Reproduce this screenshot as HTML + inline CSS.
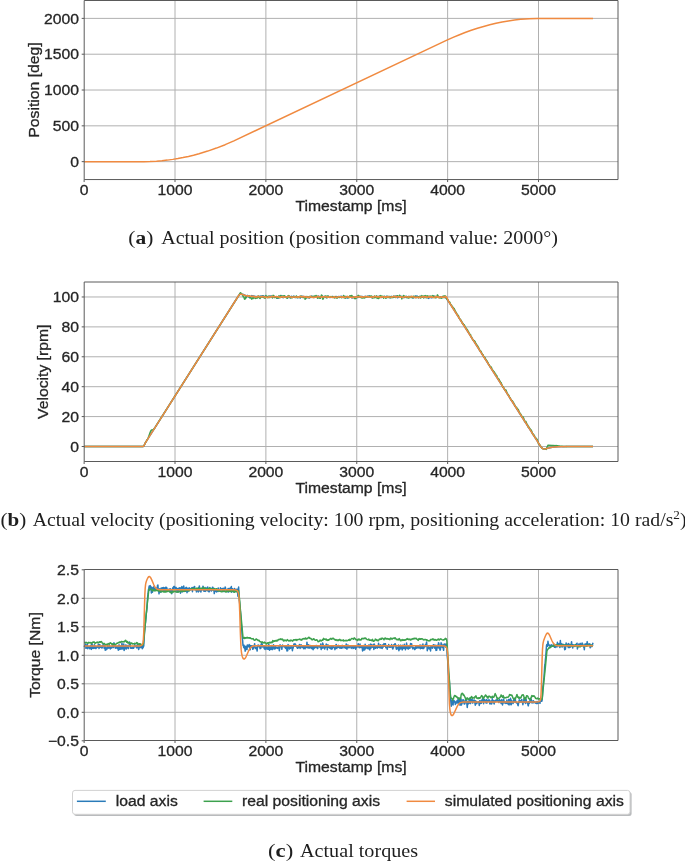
<!DOCTYPE html>
<html><head><meta charset="utf-8"><style>
html,body{margin:0;padding:0;background:#fff;width:685px;height:861px;overflow:hidden}
svg{display:block;will-change:transform}
.s{stroke:#262626;stroke-width:0.3px}
</style></head><body>
<svg width="685" height="861" viewBox="0 0 685 861">
<rect width="685" height="861" fill="#fff"/>
<line x1="175.00" y1="0.50" x2="175.00" y2="179.55" stroke="#b0b0b0" stroke-width="1.0"/>
<line x1="265.88" y1="0.50" x2="265.88" y2="179.55" stroke="#b0b0b0" stroke-width="1.0"/>
<line x1="356.75" y1="0.50" x2="356.75" y2="179.55" stroke="#b0b0b0" stroke-width="1.0"/>
<line x1="447.63" y1="0.50" x2="447.63" y2="179.55" stroke="#b0b0b0" stroke-width="1.0"/>
<line x1="538.50" y1="0.50" x2="538.50" y2="179.55" stroke="#b0b0b0" stroke-width="1.0"/>
<line x1="84.13" y1="161.65" x2="618.00" y2="161.65" stroke="#b0b0b0" stroke-width="1.0"/>
<line x1="84.13" y1="125.84" x2="618.00" y2="125.84" stroke="#b0b0b0" stroke-width="1.0"/>
<line x1="84.13" y1="90.02" x2="618.00" y2="90.02" stroke="#b0b0b0" stroke-width="1.0"/>
<line x1="84.13" y1="54.21" x2="618.00" y2="54.21" stroke="#b0b0b0" stroke-width="1.0"/>
<line x1="84.13" y1="18.39" x2="618.00" y2="18.39" stroke="#b0b0b0" stroke-width="1.0"/>
<path d="M84.13,161.65 L143.74,161.65 L149.92,161.52 L156.47,161.17 L161.92,160.72 L167.37,160.12 L172.82,159.37 L177.91,158.54 L183.00,157.58 L188.45,156.41 L193.54,155.19 L199.00,153.73 L207.72,151.09 L216.44,148.08 L225.17,144.68 L233.89,140.91 L446.90,40.17 L453.08,37.39 L458.90,34.95 L465.08,32.53 L471.26,30.31 L477.44,28.28 L483.62,26.44 L489.80,24.78 L495.98,23.32 L502.15,22.05 L508.33,20.96 L514.51,20.07 L520.69,19.37 L529.42,18.70 L537.78,18.41 L593.03,18.39" fill="none" stroke="#f08a40" stroke-width="1.5" stroke-linejoin="round" stroke-linecap="butt" opacity="1.0"/>
<path d="M84.20,0.50 H618.00 V179.55 H84.20 Z" fill="none" stroke="#5a5a5a" stroke-width="1.0" stroke-linejoin="miter"/>
<line x1="84.13" y1="179.55" x2="84.13" y2="182.05" stroke="#5a5a5a" stroke-width="1.0"/>
<text transform="translate(84.13,194.95) scale(1.085,1)" font-family='"Liberation Sans", sans-serif' font-size="14.5" font-weight="normal" text-anchor="middle" fill="#262626" class="s">0</text>
<line x1="175.00" y1="179.55" x2="175.00" y2="182.05" stroke="#5a5a5a" stroke-width="1.0"/>
<text transform="translate(175.00,194.95) scale(1.085,1)" font-family='"Liberation Sans", sans-serif' font-size="14.5" font-weight="normal" text-anchor="middle" fill="#262626" class="s">1000</text>
<line x1="265.88" y1="179.55" x2="265.88" y2="182.05" stroke="#5a5a5a" stroke-width="1.0"/>
<text transform="translate(265.88,194.95) scale(1.085,1)" font-family='"Liberation Sans", sans-serif' font-size="14.5" font-weight="normal" text-anchor="middle" fill="#262626" class="s">2000</text>
<line x1="356.75" y1="179.55" x2="356.75" y2="182.05" stroke="#5a5a5a" stroke-width="1.0"/>
<text transform="translate(356.75,194.95) scale(1.085,1)" font-family='"Liberation Sans", sans-serif' font-size="14.5" font-weight="normal" text-anchor="middle" fill="#262626" class="s">3000</text>
<line x1="447.63" y1="179.55" x2="447.63" y2="182.05" stroke="#5a5a5a" stroke-width="1.0"/>
<text transform="translate(447.63,194.95) scale(1.085,1)" font-family='"Liberation Sans", sans-serif' font-size="14.5" font-weight="normal" text-anchor="middle" fill="#262626" class="s">4000</text>
<line x1="538.50" y1="179.55" x2="538.50" y2="182.05" stroke="#5a5a5a" stroke-width="1.0"/>
<text transform="translate(538.50,194.95) scale(1.085,1)" font-family='"Liberation Sans", sans-serif' font-size="14.5" font-weight="normal" text-anchor="middle" fill="#262626" class="s">5000</text>
<line x1="81.70" y1="161.65" x2="84.20" y2="161.65" stroke="#5a5a5a" stroke-width="1.0"/>
<text transform="translate(78.90,166.85) scale(1.085,1)" font-family='"Liberation Sans", sans-serif' font-size="14.5" font-weight="normal" text-anchor="end" fill="#262626" class="s">0</text>
<line x1="81.70" y1="125.84" x2="84.20" y2="125.84" stroke="#5a5a5a" stroke-width="1.0"/>
<text transform="translate(78.90,131.03) scale(1.085,1)" font-family='"Liberation Sans", sans-serif' font-size="14.5" font-weight="normal" text-anchor="end" fill="#262626" class="s">500</text>
<line x1="81.70" y1="90.02" x2="84.20" y2="90.02" stroke="#5a5a5a" stroke-width="1.0"/>
<text transform="translate(78.90,95.22) scale(1.085,1)" font-family='"Liberation Sans", sans-serif' font-size="14.5" font-weight="normal" text-anchor="end" fill="#262626" class="s">1000</text>
<line x1="81.70" y1="54.21" x2="84.20" y2="54.21" stroke="#5a5a5a" stroke-width="1.0"/>
<text transform="translate(78.90,59.41) scale(1.085,1)" font-family='"Liberation Sans", sans-serif' font-size="14.5" font-weight="normal" text-anchor="end" fill="#262626" class="s">1500</text>
<line x1="81.70" y1="18.39" x2="84.20" y2="18.39" stroke="#5a5a5a" stroke-width="1.0"/>
<text transform="translate(78.90,23.59) scale(1.085,1)" font-family='"Liberation Sans", sans-serif' font-size="14.5" font-weight="normal" text-anchor="end" fill="#262626" class="s">2000</text>
<text transform="translate(351.06,210.75) scale(1.085,1)" font-family='"Liberation Sans", sans-serif' font-size="14.5" font-weight="normal" text-anchor="middle" fill="#262626" class="s">Timestamp [ms]</text>
<text x="0" y="0" transform="translate(38.60,90.03) rotate(-90) scale(1.085,1)" font-family='"Liberation Sans", sans-serif' font-size="14.5" text-anchor="middle" fill="#262626" class="s">Position [deg]</text>
<line x1="175.00" y1="282.00" x2="175.00" y2="461.50" stroke="#b0b0b0" stroke-width="1.0"/>
<line x1="265.88" y1="282.00" x2="265.88" y2="461.50" stroke="#b0b0b0" stroke-width="1.0"/>
<line x1="356.75" y1="282.00" x2="356.75" y2="461.50" stroke="#b0b0b0" stroke-width="1.0"/>
<line x1="447.63" y1="282.00" x2="447.63" y2="461.50" stroke="#b0b0b0" stroke-width="1.0"/>
<line x1="538.50" y1="282.00" x2="538.50" y2="461.50" stroke="#b0b0b0" stroke-width="1.0"/>
<line x1="84.13" y1="446.50" x2="618.00" y2="446.50" stroke="#b0b0b0" stroke-width="1.0"/>
<line x1="84.13" y1="416.59" x2="618.00" y2="416.59" stroke="#b0b0b0" stroke-width="1.0"/>
<line x1="84.13" y1="386.69" x2="618.00" y2="386.69" stroke="#b0b0b0" stroke-width="1.0"/>
<line x1="84.13" y1="356.78" x2="618.00" y2="356.78" stroke="#b0b0b0" stroke-width="1.0"/>
<line x1="84.13" y1="326.88" x2="618.00" y2="326.88" stroke="#b0b0b0" stroke-width="1.0"/>
<line x1="84.13" y1="296.97" x2="618.00" y2="296.97" stroke="#b0b0b0" stroke-width="1.0"/>
<path d="M84.13,446.50 L142.29,446.50 L143.02,446.45 L143.38,446.32 L143.74,446.00 L144.11,445.45 L145.20,443.17 L146.29,441.34 L237.89,296.76 L238.98,295.15 L239.71,294.46 L240.44,294.22 L241.16,294.19 L243.34,294.44 L244.07,295.04 L244.43,294.90 L244.80,295.25 L245.16,295.27 L245.89,296.15 L246.61,296.05 L246.98,295.86 L247.34,295.35 L247.70,296.31 L248.07,296.04 L248.43,296.90 L248.80,296.84 L249.16,296.63 L249.52,297.25 L249.89,297.40 L250.25,296.66 L250.61,296.40 L250.98,296.39 L251.34,296.68 L251.70,295.63 L252.43,296.66 L252.79,295.88 L253.16,295.98 L253.52,296.45 L253.88,296.03 L254.25,296.27 L254.61,296.20 L254.97,296.35 L255.34,296.92 L255.70,296.39 L256.07,296.49 L256.43,297.01 L256.79,297.15 L257.16,296.51 L257.52,296.79 L257.88,296.75 L258.25,296.48 L258.61,296.59 L258.97,297.32 L259.34,296.76 L259.70,296.41 L260.06,296.29 L260.43,295.94 L260.79,296.28 L261.15,296.29 L261.52,295.97 L261.88,296.59 L262.25,296.05 L262.61,295.81 L262.97,296.10 L263.34,295.80 L263.70,296.07 L264.06,296.90 L264.43,296.44 L265.52,296.71 L265.88,296.27 L266.24,296.42 L266.61,296.98 L267.33,296.55 L267.70,297.06 L268.79,297.29 L269.51,296.53 L269.88,295.99 L270.61,296.13 L271.33,296.06 L271.70,296.72 L272.06,296.58 L272.42,296.66 L273.15,297.11 L273.51,297.22 L273.88,297.18 L274.24,297.55 L274.60,297.00 L275.33,296.92 L276.06,296.59 L276.42,297.04 L276.78,297.04 L277.51,298.16 L277.88,298.27 L278.24,296.90 L278.60,297.67 L279.33,296.40 L279.69,296.89 L280.06,296.28 L280.42,295.91 L280.78,296.13 L281.15,295.65 L281.51,296.14 L281.87,296.91 L282.24,296.74 L282.60,297.05 L282.96,297.54 L283.33,297.73 L283.69,296.36 L284.05,296.92 L284.42,296.95 L284.78,297.22 L285.15,297.01 L285.87,297.18 L286.60,297.78 L286.96,297.62 L287.33,297.13 L287.69,296.19 L288.05,296.19 L288.42,295.88 L289.14,296.70 L289.51,297.40 L289.87,297.15 L290.23,297.92 L290.60,297.50 L290.96,296.53 L291.32,296.63 L291.69,296.36 L292.42,297.46 L293.14,297.30 L293.87,296.01 L294.23,296.83 L294.60,297.04 L295.32,297.14 L295.69,297.55 L296.41,296.90 L296.78,296.77 L297.14,297.36 L297.50,297.17 L297.87,297.75 L298.23,296.93 L298.60,297.36 L298.96,297.23 L299.69,297.31 L300.41,297.91 L300.78,296.67 L301.50,296.74 L301.87,296.00 L302.23,296.57 L302.59,296.57 L302.96,296.78 L303.32,296.40 L304.05,296.63 L304.41,296.92 L304.77,296.82 L305.14,296.43 L305.50,297.57 L305.87,297.27 L306.59,297.20 L306.96,297.86 L307.32,297.04 L307.68,297.33 L308.05,297.20 L308.41,297.26 L308.77,297.75 L309.14,297.48 L309.50,297.92 L309.86,297.75 L310.59,297.14 L310.95,297.01 L311.32,297.02 L311.68,296.11 L312.04,296.40 L312.41,297.20 L313.13,297.37 L313.50,297.21 L314.23,297.44 L314.59,296.49 L315.32,296.99 L316.04,297.08 L316.41,296.45 L316.77,296.54 L317.13,296.31 L317.50,297.93 L318.59,296.02 L318.95,296.54 L319.31,297.44 L319.68,296.93 L320.04,297.19 L320.40,297.79 L320.77,297.56 L321.13,296.78 L321.50,296.39 L321.86,296.41 L322.22,297.12 L322.59,296.00 L322.95,297.01 L323.31,297.01 L323.68,297.56 L324.04,296.67 L324.40,296.66 L324.77,296.46 L325.49,296.85 L325.86,296.84 L326.22,297.66 L326.58,296.86 L326.95,296.54 L327.31,296.92 L327.67,296.94 L328.04,296.81 L328.40,296.26 L329.49,297.05 L329.86,297.60 L330.22,297.48 L330.58,297.15 L330.95,297.13 L331.31,296.99 L331.67,296.65 L332.40,296.70 L332.76,296.57 L333.49,296.85 L333.85,296.71 L334.22,297.54 L334.58,296.70 L334.94,297.36 L335.31,296.78 L335.67,296.87 L336.04,296.45 L336.40,296.72 L336.76,297.21 L337.13,296.63 L338.22,296.85 L338.58,296.49 L338.94,296.42 L339.31,296.62 L339.67,297.42 L340.03,297.31 L340.40,297.06 L340.76,296.27 L341.49,296.77 L341.85,296.38 L342.21,296.74 L342.58,296.87 L342.94,296.84 L343.31,297.50 L343.67,296.80 L344.03,296.70 L344.40,296.95 L344.76,297.40 L345.12,297.04 L345.49,296.42 L346.21,297.38 L346.58,296.95 L347.30,298.12 L347.67,297.62 L348.39,297.29 L348.76,297.30 L349.12,296.94 L349.85,297.21 L350.21,297.23 L350.94,296.49 L351.30,296.37 L351.67,296.40 L352.03,298.03 L352.39,297.82 L353.12,297.08 L353.48,297.65 L353.85,296.65 L354.21,296.68 L354.57,297.07 L354.94,296.92 L355.66,297.30 L356.03,296.89 L356.39,297.09 L356.75,297.57 L357.12,297.46 L357.48,297.20 L357.85,297.49 L358.21,296.66 L358.57,297.24 L358.94,296.35 L359.30,296.31 L359.66,297.03 L360.03,296.93 L360.39,296.44 L360.75,296.80 L361.12,297.36 L361.48,297.06 L361.84,296.18 L362.21,297.21 L362.57,296.82 L364.02,297.12 L364.39,296.59 L364.75,296.54 L365.12,297.16 L365.48,296.39 L365.84,297.21 L366.21,296.79 L366.57,296.79 L366.93,296.38 L367.30,296.55 L367.66,296.32 L368.02,296.68 L368.39,296.42 L368.75,296.57 L369.11,295.90 L369.48,296.77 L369.84,296.37 L370.57,296.67 L370.93,297.05 L371.29,296.79 L371.66,297.47 L372.02,297.71 L372.39,296.98 L372.75,297.57 L373.11,296.62 L373.48,296.89 L373.84,296.80 L374.20,296.84 L374.57,296.70 L375.29,297.08 L375.66,297.04 L376.02,296.55 L376.75,296.13 L377.47,296.78 L377.84,297.54 L378.20,296.94 L378.56,296.59 L378.93,296.94 L379.66,296.25 L380.02,296.59 L380.38,296.35 L380.75,296.54 L381.11,297.46 L381.84,297.27 L382.20,296.86 L382.56,297.24 L382.93,297.23 L383.29,297.44 L384.02,297.00 L384.38,296.55 L384.74,296.43 L385.11,296.63 L386.20,296.82 L386.56,296.25 L386.93,297.63 L387.65,296.96 L388.02,296.48 L388.38,297.18 L389.11,296.55 L389.47,296.94 L389.83,297.70 L390.20,297.40 L390.56,297.61 L390.92,296.96 L391.29,297.28 L391.65,296.34 L392.01,296.61 L392.38,297.10 L392.74,297.20 L393.10,297.48 L393.83,296.36 L394.20,296.75 L394.56,296.47 L394.92,297.10 L395.29,296.87 L395.65,295.98 L396.01,297.07 L396.38,296.49 L396.74,296.25 L397.10,297.39 L397.47,297.72 L397.83,297.65 L398.19,296.85 L398.56,297.07 L398.92,297.04 L399.28,296.67 L400.01,296.76 L400.38,296.98 L400.74,296.49 L401.10,297.05 L401.47,296.30 L402.19,297.18 L402.56,296.78 L402.92,296.67 L403.28,297.62 L403.65,297.13 L404.01,297.55 L404.37,297.53 L404.74,296.87 L405.10,297.23 L405.46,296.91 L405.83,297.06 L406.19,296.19 L406.92,297.27 L407.28,297.52 L407.64,297.54 L408.01,297.15 L408.37,297.02 L408.74,296.57 L409.46,296.76 L409.83,296.72 L410.19,296.89 L411.28,296.45 L412.01,297.64 L412.37,297.56 L412.73,297.09 L413.10,298.01 L413.82,297.02 L414.55,297.49 L414.91,296.45 L415.28,296.16 L415.64,296.70 L416.01,296.29 L416.37,296.12 L416.73,297.04 L417.10,295.90 L417.46,296.86 L417.82,297.01 L418.19,297.42 L418.55,297.10 L418.91,297.55 L419.28,297.20 L419.64,296.61 L420.00,296.70 L420.37,296.94 L420.73,296.30 L421.09,297.02 L421.46,296.59 L421.82,296.90 L422.91,296.86 L423.28,296.93 L423.64,297.25 L424.00,297.30 L424.37,296.92 L424.73,296.97 L425.09,297.42 L425.82,297.43 L426.55,296.97 L426.91,296.91 L427.27,297.18 L427.64,297.03 L428.00,297.53 L428.36,298.36 L428.73,297.58 L429.09,297.88 L429.45,297.73 L429.82,297.77 L430.18,297.03 L430.55,297.47 L430.91,297.05 L431.27,297.18 L432.00,297.85 L432.36,297.14 L433.09,296.60 L433.45,296.05 L433.82,296.44 L434.54,296.86 L434.91,296.88 L435.63,297.37 L436.00,296.33 L436.36,297.44 L437.09,296.82 L437.45,296.83 L437.82,297.31 L438.18,297.18 L438.54,297.24 L438.91,297.52 L439.27,297.22 L440.00,297.30 L440.36,296.83 L440.72,297.33 L441.09,296.95 L441.45,297.20 L441.81,296.89 L442.54,296.84 L442.90,297.31 L443.63,297.52 L444.72,296.43 L445.09,296.94 L445.45,296.93 L446.18,298.34 L446.54,298.37 L446.90,298.72 L447.27,299.76 L447.63,299.67 L448.36,301.08 L449.81,303.41 L540.32,445.88 L541.78,447.89 L542.14,448.23 L542.87,448.68 L543.59,448.90 L544.32,448.96 L545.77,448.79 L549.77,447.80 L552.32,447.30 L554.86,446.97 L558.13,446.72 L567.22,446.52 L593.03,446.50" fill="none" stroke="#2a7bb9" stroke-width="1.5" stroke-linejoin="round" stroke-linecap="butt" opacity="1.0"/>
<path d="M84.13,446.50 L142.29,446.50 L143.02,446.45 L143.38,446.32 L143.74,446.00 L144.11,445.45 L145.20,443.17 L147.38,439.47 L148.11,438.02 L148.83,436.22 L150.29,432.05 L151.01,430.60 L151.38,430.18 L151.74,429.95 L152.83,429.69 L153.56,429.28 L154.29,428.52 L155.38,426.97 L238.98,295.08 L240.07,293.15 L240.44,292.77 L240.80,292.87 L242.25,294.85 L242.62,294.49 L242.98,296.21 L243.34,296.70 L243.71,296.83 L244.07,297.44 L244.43,298.84 L244.80,299.19 L245.16,298.96 L245.52,298.30 L245.89,296.99 L246.25,297.68 L246.61,296.81 L246.98,296.33 L247.34,296.19 L247.70,296.26 L248.07,295.70 L248.43,296.17 L248.80,296.22 L249.16,296.49 L249.52,295.91 L249.89,297.96 L250.25,296.96 L250.61,297.50 L250.98,297.77 L251.70,299.10 L252.07,298.56 L252.43,298.50 L252.79,297.74 L253.16,298.58 L253.52,297.16 L253.88,297.23 L254.61,297.94 L255.34,298.39 L255.70,298.11 L256.07,297.62 L256.43,297.48 L256.79,298.14 L257.16,297.70 L257.52,297.88 L257.88,297.30 L258.25,295.99 L258.61,296.15 L258.97,296.79 L259.34,297.84 L260.06,298.49 L260.43,297.15 L260.79,297.46 L261.15,297.08 L261.52,297.33 L261.88,297.00 L262.25,296.09 L262.61,296.94 L262.97,297.11 L263.34,297.47 L263.70,296.61 L264.06,297.40 L264.79,298.13 L265.15,298.28 L265.52,297.22 L265.88,295.48 L266.24,296.88 L266.61,296.31 L266.97,296.49 L267.33,297.40 L268.06,297.23 L268.42,297.49 L268.79,296.00 L269.15,297.67 L269.51,297.02 L269.88,296.77 L270.24,297.21 L270.61,296.98 L270.97,296.41 L271.33,296.62 L271.70,296.55 L272.06,296.35 L272.42,297.92 L273.15,295.37 L273.51,295.67 L273.88,295.79 L274.24,297.28 L274.60,297.18 L274.97,297.57 L275.33,297.59 L275.69,296.65 L276.06,297.30 L276.42,297.18 L276.78,298.21 L277.15,297.59 L277.51,297.19 L277.88,297.48 L278.24,297.62 L278.60,296.09 L278.97,297.31 L279.33,297.75 L279.69,297.79 L280.42,295.54 L280.78,296.13 L281.15,297.03 L281.51,297.24 L281.87,296.45 L282.24,297.31 L282.60,296.24 L282.96,295.78 L283.33,296.41 L284.05,296.23 L284.42,295.72 L284.78,297.07 L285.15,296.30 L285.87,297.41 L286.24,297.11 L286.60,297.15 L287.33,298.23 L287.69,298.08 L288.05,296.57 L288.42,295.60 L288.78,295.97 L289.14,295.80 L289.51,296.77 L289.87,296.94 L290.23,296.80 L290.60,297.56 L290.96,297.84 L291.32,297.28 L291.69,297.30 L292.05,297.76 L292.42,297.07 L292.78,297.16 L293.14,296.43 L293.87,297.04 L294.23,296.93 L294.60,297.05 L294.96,297.42 L295.32,297.41 L295.69,296.70 L296.05,296.46 L296.41,295.97 L296.78,297.55 L297.50,297.44 L297.87,297.08 L298.60,297.41 L298.96,296.68 L299.32,296.73 L299.69,297.58 L300.05,296.42 L300.41,296.12 L300.78,296.96 L301.14,296.46 L301.50,297.18 L301.87,296.39 L302.59,297.40 L302.96,297.39 L303.32,297.61 L303.68,297.14 L304.05,296.94 L304.41,296.93 L304.77,297.28 L305.14,299.32 L305.50,297.94 L305.87,298.54 L306.59,296.51 L306.96,296.57 L307.32,297.03 L308.05,297.10 L309.14,297.76 L309.50,296.59 L309.86,296.81 L310.23,296.32 L310.59,296.83 L310.95,296.86 L311.32,297.04 L312.04,296.37 L312.41,296.56 L312.77,297.20 L313.13,297.54 L313.50,296.22 L313.86,296.82 L314.23,297.08 L314.59,296.13 L314.95,295.94 L315.32,296.21 L315.68,296.88 L316.04,295.50 L316.41,296.11 L316.77,296.27 L317.13,296.78 L317.50,297.74 L317.86,298.14 L318.22,297.23 L318.59,296.85 L318.95,297.06 L319.68,298.15 L320.04,297.69 L320.40,298.17 L320.77,296.94 L321.13,296.25 L321.50,294.93 L321.86,295.55 L322.22,296.70 L322.59,297.39 L322.95,299.25 L324.04,296.69 L324.77,296.36 L325.13,296.57 L325.49,296.39 L325.86,295.85 L326.22,297.14 L326.58,297.32 L326.95,297.97 L327.31,296.43 L327.67,295.96 L328.04,296.07 L328.40,297.30 L328.77,297.00 L329.13,297.14 L329.49,297.01 L329.86,297.11 L330.22,296.70 L330.58,297.09 L330.95,296.50 L331.31,296.62 L331.67,296.99 L332.04,297.05 L332.40,297.27 L332.76,296.61 L333.13,296.98 L333.49,296.79 L333.85,297.13 L334.22,297.94 L334.58,296.85 L334.94,297.56 L335.31,296.82 L335.67,296.64 L336.04,297.82 L336.40,297.92 L336.76,297.68 L337.13,297.78 L337.49,298.04 L337.85,296.97 L338.22,297.11 L338.58,296.79 L338.94,297.15 L339.31,296.85 L339.67,297.38 L340.03,297.16 L340.40,296.70 L340.76,296.82 L341.49,297.72 L341.85,297.19 L342.21,296.86 L342.58,297.08 L342.94,297.48 L343.31,296.85 L343.67,295.42 L344.03,296.48 L344.76,296.55 L345.12,298.35 L345.49,297.52 L345.85,297.63 L346.21,296.42 L346.94,297.38 L347.30,297.28 L347.67,297.00 L348.03,297.33 L348.39,297.16 L348.76,297.87 L349.12,297.49 L349.85,295.67 L350.58,296.36 L350.94,295.99 L351.30,295.93 L351.67,295.53 L352.03,295.69 L352.39,296.49 L353.12,296.72 L353.85,296.74 L354.21,297.34 L354.57,298.41 L354.94,298.00 L355.30,298.65 L355.66,297.66 L356.03,297.26 L356.39,298.09 L356.75,297.03 L357.12,296.45 L357.48,296.69 L357.85,295.84 L358.21,295.33 L358.57,296.99 L358.94,296.36 L359.66,296.50 L360.03,296.22 L360.39,297.07 L361.12,297.65 L361.48,297.73 L361.84,297.37 L362.21,298.02 L362.57,298.05 L362.93,297.08 L363.30,297.05 L363.66,296.77 L364.02,298.02 L364.75,297.71 L365.12,297.27 L365.48,297.46 L365.84,296.60 L366.21,296.84 L366.93,296.93 L367.30,296.52 L367.66,297.07 L368.02,296.33 L368.39,296.41 L369.11,296.81 L369.48,296.58 L369.84,296.20 L370.20,296.06 L370.57,296.35 L370.93,296.17 L371.29,296.56 L371.66,296.04 L372.02,296.59 L372.39,298.07 L372.75,296.64 L373.11,296.76 L373.48,297.60 L373.84,297.36 L374.20,297.66 L374.57,296.01 L374.93,296.25 L375.29,297.60 L375.66,296.91 L376.02,297.18 L376.38,295.92 L377.11,298.40 L377.47,297.56 L377.84,297.43 L378.20,297.44 L378.56,298.46 L379.29,296.12 L379.66,297.75 L380.02,296.60 L380.38,297.13 L380.75,295.62 L381.47,296.70 L381.84,296.20 L382.20,296.31 L382.56,297.06 L382.93,296.58 L383.29,297.11 L383.65,298.13 L384.02,296.25 L384.74,297.30 L385.11,296.90 L385.47,297.87 L385.83,298.20 L386.20,297.80 L386.56,297.64 L386.93,297.22 L387.29,296.38 L387.65,296.99 L388.38,296.47 L388.74,297.41 L389.11,297.03 L389.47,297.56 L389.83,296.59 L390.20,296.53 L390.56,296.76 L390.92,297.69 L391.29,297.21 L391.65,297.55 L392.01,296.80 L392.38,296.97 L392.74,297.45 L393.10,296.62 L393.47,296.37 L393.83,297.08 L394.20,296.31 L394.56,296.86 L394.92,297.12 L395.29,296.97 L395.65,297.42 L396.01,297.44 L396.38,297.27 L396.74,296.17 L397.10,295.71 L397.47,296.57 L397.83,295.82 L398.19,296.49 L398.56,296.55 L398.92,296.26 L399.28,296.48 L399.65,295.31 L400.01,296.10 L400.38,297.32 L400.74,296.34 L401.10,296.95 L401.47,297.17 L401.83,298.87 L402.19,297.18 L402.56,296.58 L403.28,296.09 L403.65,295.53 L404.01,296.38 L404.37,296.15 L404.74,297.07 L405.10,297.24 L405.46,296.46 L405.83,296.51 L406.19,297.59 L406.55,297.01 L406.92,297.10 L407.28,297.53 L407.64,296.95 L408.01,297.20 L408.37,298.02 L408.74,298.10 L409.10,296.38 L409.46,297.64 L410.19,296.65 L410.55,296.43 L410.92,297.50 L411.28,297.38 L411.64,297.06 L412.01,296.53 L412.73,297.75 L413.10,296.70 L413.46,296.18 L413.82,296.41 L414.19,297.09 L414.55,296.76 L414.91,296.82 L415.28,296.41 L415.64,297.49 L416.01,297.12 L416.37,297.13 L416.73,297.72 L417.10,297.17 L417.46,297.02 L417.82,297.24 L418.19,296.85 L418.55,297.77 L419.28,296.87 L419.64,296.75 L420.00,296.23 L420.37,297.36 L420.73,298.05 L421.09,297.30 L421.46,296.84 L421.82,295.64 L422.19,296.01 L422.55,297.07 L422.91,296.53 L423.64,298.03 L424.00,295.86 L424.37,296.28 L425.09,296.31 L425.46,295.57 L425.82,296.21 L426.18,295.91 L426.55,297.14 L426.91,297.89 L427.27,296.52 L427.64,295.88 L428.36,296.49 L428.73,296.65 L429.09,297.26 L429.45,296.18 L430.55,296.47 L430.91,296.11 L431.27,296.31 L431.64,296.24 L432.00,297.36 L432.36,296.84 L432.73,295.60 L433.09,296.69 L433.45,296.93 L433.82,296.40 L434.18,296.15 L434.54,296.25 L434.91,297.63 L435.27,296.95 L435.63,297.69 L436.00,297.79 L436.36,297.00 L436.72,297.15 L437.09,296.56 L437.45,294.87 L437.82,295.58 L438.18,295.93 L438.54,297.06 L439.27,297.83 L439.63,297.68 L440.00,297.95 L440.36,297.79 L440.72,297.44 L441.45,298.17 L441.81,298.31 L442.18,297.27 L442.54,297.06 L442.90,296.38 L443.27,296.07 L443.63,296.77 L444.00,296.48 L444.36,297.63 L444.72,295.88 L445.09,295.78 L445.81,297.57 L446.18,297.16 L446.54,298.65 L446.90,299.06 L447.27,298.82 L447.99,300.41 L448.36,300.80 L448.72,301.54 L449.08,301.80 L449.45,301.88 L449.81,302.28 L450.54,304.31 L451.26,305.14 L451.63,305.18 L451.99,306.11 L452.36,306.77 L452.72,307.00 L453.08,307.92 L453.45,308.52 L453.81,308.34 L454.17,308.67 L454.90,310.32 L455.26,311.50 L455.63,311.73 L456.35,312.88 L456.72,313.72 L457.44,314.82 L457.81,315.20 L458.17,315.24 L458.53,316.01 L458.90,317.49 L459.63,319.04 L459.99,319.43 L460.35,319.38 L460.72,319.72 L461.08,320.61 L461.44,320.96 L462.53,323.59 L462.90,324.01 L463.26,323.61 L463.62,324.86 L463.99,324.68 L464.35,324.89 L464.71,325.92 L465.44,327.50 L465.81,327.98 L466.17,328.23 L466.53,328.92 L467.26,329.48 L468.35,331.76 L468.71,332.27 L469.08,333.40 L469.44,333.59 L469.80,334.08 L470.17,335.05 L470.53,334.58 L470.89,335.95 L471.26,336.84 L471.62,337.08 L471.98,338.40 L472.35,338.85 L472.71,339.65 L473.07,340.09 L474.17,340.59 L474.89,341.46 L475.26,342.20 L475.62,343.27 L475.98,343.43 L476.71,345.29 L477.07,345.11 L477.44,345.64 L477.80,346.44 L478.53,347.35 L478.89,348.79 L479.25,349.22 L479.62,350.17 L479.98,350.38 L480.34,351.12 L480.71,350.93 L481.07,351.52 L481.44,352.63 L481.80,353.12 L482.16,354.14 L482.89,354.64 L483.25,355.17 L483.62,356.62 L483.98,356.92 L484.34,357.04 L484.71,357.50 L485.07,357.68 L485.43,359.05 L485.80,359.25 L486.16,360.14 L487.25,361.28 L487.62,362.29 L487.98,362.73 L488.71,364.69 L489.07,364.61 L489.43,365.13 L489.80,366.32 L490.16,366.84 L490.52,367.04 L490.89,366.84 L491.25,367.28 L491.61,367.89 L491.98,369.52 L492.70,370.13 L493.07,370.60 L493.43,371.11 L493.79,371.91 L494.16,371.78 L494.52,372.17 L495.25,374.47 L495.61,374.07 L495.98,375.28 L496.70,375.52 L497.07,377.02 L497.43,377.52 L497.79,378.31 L498.16,378.63 L498.52,379.18 L498.88,379.07 L499.61,380.82 L499.97,381.09 L500.70,382.90 L501.06,382.52 L501.43,383.91 L501.79,384.71 L502.15,385.15 L502.88,387.30 L503.25,386.84 L503.61,387.71 L504.34,388.83 L505.06,390.33 L505.43,390.46 L505.79,389.94 L506.52,391.35 L506.88,392.87 L507.24,393.26 L507.61,394.24 L507.97,394.18 L509.06,396.00 L509.79,397.83 L510.15,397.76 L510.52,398.85 L510.88,399.56 L511.24,399.83 L511.61,400.43 L512.33,400.74 L513.42,402.73 L513.79,403.01 L514.15,404.56 L514.51,404.65 L515.24,406.37 L515.60,406.56 L515.97,407.11 L516.69,407.48 L517.06,409.27 L517.42,409.46 L517.79,409.05 L518.15,409.64 L518.51,409.99 L519.24,412.38 L519.60,413.19 L519.97,413.12 L520.33,413.32 L520.69,414.40 L521.06,415.00 L521.42,415.37 L521.78,416.68 L522.15,417.01 L522.51,416.67 L522.87,416.62 L523.24,417.85 L523.60,417.91 L524.69,421.59 L525.06,421.20 L525.42,421.90 L525.78,421.42 L526.51,423.11 L526.87,424.60 L527.24,424.22 L527.60,425.15 L527.96,425.79 L528.33,427.21 L528.69,426.87 L529.05,427.05 L529.42,428.08 L530.14,428.97 L530.51,429.26 L530.87,430.06 L531.23,430.06 L531.96,432.15 L532.33,432.83 L532.69,434.29 L533.05,434.55 L533.42,434.25 L533.78,434.74 L534.14,435.71 L534.51,435.97 L534.87,437.38 L535.23,437.62 L535.60,437.72 L535.96,438.01 L536.32,439.06 L537.05,439.23 L537.41,440.58 L537.78,441.07 L538.50,443.80 L538.87,443.67 L541.05,446.99 L541.78,447.89 L542.50,448.49 L543.23,448.82 L544.32,448.96 L544.68,448.94 L545.05,448.78 L545.41,449.10 L546.14,449.37 L547.96,445.25 L548.32,445.18 L551.95,445.46 L552.68,445.59 L553.04,445.45 L555.59,445.68 L555.95,445.60 L556.32,445.69 L556.68,445.62 L557.04,445.84 L557.41,445.90 L557.77,445.81 L558.50,445.99 L558.86,445.98 L559.22,446.11 L559.59,446.12 L559.95,446.31 L561.41,446.21 L561.77,446.33 L562.13,446.22 L563.22,446.61 L563.59,446.39 L565.04,446.60 L565.40,446.44 L565.77,446.48 L566.13,446.37 L566.86,446.65 L567.22,446.50 L567.95,446.53 L568.31,446.40 L569.77,446.54 L570.49,446.53 L571.22,446.41 L575.95,446.55 L576.31,446.47 L576.67,446.54 L577.40,446.39 L578.13,446.59 L578.85,446.44 L579.22,446.50 L579.58,446.42 L581.03,446.53 L583.58,446.47 L583.94,446.60 L586.12,446.57 L586.85,446.47 L587.21,446.60 L587.58,446.54 L587.94,446.59 L588.30,446.41 L589.03,446.53 L591.58,446.39 L591.94,446.53 L592.30,446.39 L593.03,446.40" fill="none" stroke="#3da14e" stroke-width="1.5" stroke-linejoin="round" stroke-linecap="butt" opacity="1.0"/>
<path d="M84.13,446.50 L142.29,446.50 L143.02,446.45 L143.38,446.32 L143.74,446.00 L144.11,445.45 L145.20,443.17 L146.29,441.34 L237.89,296.76 L238.98,295.15 L239.71,294.46 L240.44,294.22 L241.16,294.19 L242.62,294.43 L244.43,295.19 L244.80,295.45 L245.52,295.58 L245.89,295.53 L246.25,295.85 L246.98,295.70 L247.70,295.94 L248.07,295.81 L248.43,296.29 L248.80,296.07 L249.16,296.03 L249.89,296.02 L250.25,296.28 L250.61,296.34 L250.98,296.18 L251.34,296.17 L251.70,296.23 L252.07,296.67 L252.79,296.19 L253.16,296.11 L253.52,296.27 L253.88,296.77 L254.25,296.46 L254.61,296.56 L254.97,297.18 L255.34,296.83 L255.70,297.10 L256.07,297.19 L256.43,297.09 L256.79,296.62 L257.16,296.75 L257.52,296.68 L257.88,296.31 L258.25,296.16 L259.34,297.03 L259.70,297.08 L260.06,296.85 L260.79,296.77 L261.15,296.57 L261.52,296.88 L261.88,296.88 L262.97,296.51 L263.70,296.81 L264.06,296.76 L264.79,297.36 L265.15,297.00 L265.88,296.87 L266.24,297.28 L266.61,297.19 L267.33,297.26 L267.70,297.62 L268.42,296.94 L268.79,296.84 L269.15,297.03 L269.51,296.98 L269.88,296.78 L270.24,297.49 L271.70,296.48 L272.06,296.44 L272.79,296.70 L273.15,296.64 L273.51,296.92 L273.88,296.95 L274.60,296.40 L274.97,296.71 L275.33,296.84 L275.69,296.85 L276.06,296.59 L276.42,296.78 L276.78,296.53 L277.15,296.97 L277.88,297.03 L278.60,296.65 L278.97,297.15 L279.33,297.27 L279.69,297.04 L280.06,297.16 L280.42,297.41 L280.78,296.96 L281.15,296.85 L281.51,296.79 L281.87,296.98 L282.24,296.74 L282.60,296.90 L282.96,296.68 L283.33,297.03 L283.69,297.20 L284.05,297.04 L284.42,297.16 L284.78,296.91 L285.15,296.88 L285.51,297.14 L285.87,297.04 L286.24,297.08 L286.60,296.82 L286.96,297.03 L287.33,297.10 L288.05,296.34 L288.42,296.18 L288.78,296.55 L289.14,296.71 L289.51,296.48 L290.23,297.08 L290.96,296.89 L291.69,297.43 L292.05,297.54 L292.42,297.11 L292.78,297.21 L293.87,296.84 L294.23,296.98 L294.60,296.86 L294.96,297.12 L295.32,297.13 L295.69,297.29 L296.05,296.87 L296.41,296.93 L296.78,297.12 L297.14,297.13 L297.50,297.10 L297.87,296.87 L298.23,297.29 L298.60,297.37 L298.96,297.26 L299.32,296.53 L299.69,296.52 L300.05,296.77 L300.41,296.70 L300.78,296.35 L301.50,296.92 L301.87,296.67 L302.59,296.68 L302.96,296.94 L303.32,296.51 L303.68,296.34 L304.41,296.58 L304.77,297.24 L305.14,296.96 L305.50,297.01 L306.23,296.78 L306.59,296.95 L306.96,297.35 L307.32,297.08 L307.68,297.20 L308.77,297.17 L309.14,297.61 L309.50,297.01 L309.86,296.93 L310.59,296.37 L310.95,296.66 L311.32,297.22 L312.04,297.42 L312.77,297.13 L313.13,297.52 L313.50,297.17 L313.86,297.42 L314.23,297.13 L315.32,297.05 L316.04,297.20 L316.41,297.47 L316.77,297.23 L317.13,296.68 L317.50,296.36 L317.86,296.35 L318.22,296.49 L318.59,296.88 L318.95,296.59 L320.04,297.00 L321.13,297.04 L321.50,297.26 L321.86,297.20 L322.22,296.56 L322.95,296.93 L323.68,296.73 L324.04,297.10 L324.40,297.08 L324.77,296.82 L325.49,296.87 L325.86,296.56 L326.22,296.92 L326.58,296.92 L326.95,297.06 L327.31,296.68 L327.67,297.27 L328.04,297.28 L328.40,297.25 L329.49,296.57 L329.86,297.13 L330.22,296.88 L330.95,297.13 L331.31,296.93 L332.04,297.55 L332.40,297.35 L332.76,297.51 L333.13,297.40 L333.49,297.10 L333.85,296.97 L334.22,296.60 L334.58,296.82 L334.94,297.25 L336.04,297.44 L336.40,297.11 L336.76,297.20 L337.13,297.54 L337.49,297.10 L338.94,296.80 L339.31,296.87 L339.67,296.63 L340.76,296.76 L341.12,297.20 L342.21,297.00 L342.58,297.30 L342.94,296.76 L343.31,296.84 L344.03,297.47 L344.76,297.16 L345.12,297.23 L345.49,297.09 L345.85,297.18 L346.21,296.95 L346.58,297.12 L346.94,297.06 L347.30,296.79 L347.67,296.28 L348.03,296.85 L348.76,297.19 L349.12,296.90 L349.49,297.20 L350.21,297.10 L350.94,297.34 L351.30,297.27 L351.67,297.61 L352.03,297.63 L352.76,297.16 L353.12,297.11 L353.48,297.45 L353.85,297.32 L354.21,296.96 L354.57,296.83 L354.94,296.92 L355.30,297.15 L355.66,296.92 L356.39,297.29 L356.75,297.32 L357.12,296.82 L357.48,296.84 L357.85,296.63 L358.21,296.91 L358.57,296.72 L358.94,296.98 L359.30,297.01 L359.66,296.42 L360.03,296.51 L360.39,296.85 L360.75,296.93 L361.12,296.88 L361.48,296.64 L362.21,297.35 L363.30,297.01 L363.66,296.69 L364.02,296.75 L364.39,296.67 L364.75,297.07 L365.12,296.82 L365.48,296.41 L366.57,296.78 L366.93,296.46 L367.30,296.92 L367.66,296.97 L368.39,296.75 L368.75,296.96 L369.11,296.89 L369.48,297.00 L370.20,296.99 L370.57,297.25 L370.93,297.12 L371.29,296.84 L371.66,297.13 L372.02,297.11 L372.39,296.89 L372.75,297.17 L373.11,297.03 L373.48,297.25 L374.20,296.37 L374.57,296.20 L374.93,296.62 L375.29,296.62 L376.02,296.84 L376.38,296.55 L376.75,297.06 L377.11,296.78 L377.47,296.88 L377.84,296.60 L378.56,297.01 L379.29,296.78 L379.66,296.86 L380.02,296.80 L380.38,297.01 L380.75,297.48 L381.11,297.02 L381.47,296.84 L382.20,296.90 L382.56,296.70 L383.29,297.11 L383.65,297.09 L384.02,296.76 L384.38,297.18 L384.74,296.80 L385.47,297.26 L385.83,296.82 L386.20,296.92 L386.56,297.25 L386.93,297.19 L387.65,296.64 L388.02,296.90 L388.74,296.74 L389.11,297.00 L389.47,296.90 L390.56,297.14 L391.29,297.00 L392.01,297.14 L392.38,296.80 L392.74,296.83 L393.47,296.55 L393.83,296.62 L394.20,296.26 L394.56,296.80 L394.92,296.70 L395.29,296.90 L395.65,296.51 L396.01,296.34 L396.38,297.10 L396.74,297.27 L397.10,296.97 L397.83,296.71 L398.19,296.85 L398.92,296.73 L399.28,296.86 L399.65,296.68 L400.01,297.34 L400.38,297.02 L400.74,297.23 L401.10,296.88 L401.83,297.18 L402.19,296.99 L403.28,297.50 L404.37,296.75 L404.74,296.89 L405.10,296.68 L405.83,296.91 L406.55,296.64 L406.92,296.88 L407.64,297.02 L408.01,296.97 L408.37,297.18 L408.74,296.84 L409.10,297.00 L409.46,296.88 L409.83,297.11 L410.55,296.87 L410.92,297.02 L411.28,296.53 L411.64,296.66 L412.01,296.40 L412.37,296.45 L412.73,296.86 L413.10,297.00 L413.46,296.88 L414.19,296.93 L414.55,297.02 L414.91,297.42 L415.28,297.25 L415.64,297.62 L416.01,297.22 L416.73,297.29 L417.46,297.01 L418.19,297.55 L418.55,297.51 L418.91,297.72 L419.28,297.58 L419.64,296.91 L420.00,297.19 L420.37,296.93 L420.73,297.26 L421.09,297.05 L421.82,297.04 L422.19,296.88 L422.55,296.51 L423.28,296.80 L423.64,297.11 L424.00,296.90 L424.37,296.99 L424.73,296.79 L425.09,296.89 L425.46,296.53 L425.82,297.20 L426.18,297.16 L426.55,296.86 L427.27,297.17 L427.64,297.13 L428.00,297.38 L428.36,297.15 L428.73,296.50 L429.09,296.46 L429.45,296.97 L429.82,297.17 L430.18,297.16 L430.55,296.83 L430.91,297.09 L431.27,297.20 L431.64,296.88 L432.00,296.72 L433.09,297.45 L433.45,297.38 L433.82,297.69 L434.18,297.17 L434.54,297.22 L434.91,296.99 L435.27,296.54 L435.63,296.48 L436.00,296.98 L436.72,296.60 L437.45,297.18 L437.82,297.11 L438.18,297.41 L438.54,296.86 L438.91,297.47 L439.27,297.48 L440.72,296.94 L441.09,297.01 L441.45,296.72 L441.81,297.33 L442.18,297.16 L442.54,297.23 L443.27,296.97 L443.63,297.18 L444.00,297.23 L444.36,296.92 L444.72,296.86 L445.09,297.07 L445.45,296.56 L445.81,296.28 L446.18,297.12 L446.54,297.40 L446.90,297.45 L447.27,298.35 L447.63,299.67 L449.08,302.26 L540.32,445.88 L541.78,447.89 L542.14,448.23 L542.87,448.68 L543.59,448.90 L544.32,448.96 L545.77,448.79 L549.77,447.80 L552.32,447.30 L554.86,446.97 L558.13,446.72 L567.22,446.52 L593.03,446.50" fill="none" stroke="#f08a40" stroke-width="1.5" stroke-linejoin="round" stroke-linecap="butt" opacity="1.0"/>
<path d="M84.20,282.00 H618.00 V461.50 H84.20 Z" fill="none" stroke="#5a5a5a" stroke-width="1.0" stroke-linejoin="miter"/>
<line x1="84.13" y1="461.50" x2="84.13" y2="464.00" stroke="#5a5a5a" stroke-width="1.0"/>
<text transform="translate(84.13,476.90) scale(1.085,1)" font-family='"Liberation Sans", sans-serif' font-size="14.5" font-weight="normal" text-anchor="middle" fill="#262626" class="s">0</text>
<line x1="175.00" y1="461.50" x2="175.00" y2="464.00" stroke="#5a5a5a" stroke-width="1.0"/>
<text transform="translate(175.00,476.90) scale(1.085,1)" font-family='"Liberation Sans", sans-serif' font-size="14.5" font-weight="normal" text-anchor="middle" fill="#262626" class="s">1000</text>
<line x1="265.88" y1="461.50" x2="265.88" y2="464.00" stroke="#5a5a5a" stroke-width="1.0"/>
<text transform="translate(265.88,476.90) scale(1.085,1)" font-family='"Liberation Sans", sans-serif' font-size="14.5" font-weight="normal" text-anchor="middle" fill="#262626" class="s">2000</text>
<line x1="356.75" y1="461.50" x2="356.75" y2="464.00" stroke="#5a5a5a" stroke-width="1.0"/>
<text transform="translate(356.75,476.90) scale(1.085,1)" font-family='"Liberation Sans", sans-serif' font-size="14.5" font-weight="normal" text-anchor="middle" fill="#262626" class="s">3000</text>
<line x1="447.63" y1="461.50" x2="447.63" y2="464.00" stroke="#5a5a5a" stroke-width="1.0"/>
<text transform="translate(447.63,476.90) scale(1.085,1)" font-family='"Liberation Sans", sans-serif' font-size="14.5" font-weight="normal" text-anchor="middle" fill="#262626" class="s">4000</text>
<line x1="538.50" y1="461.50" x2="538.50" y2="464.00" stroke="#5a5a5a" stroke-width="1.0"/>
<text transform="translate(538.50,476.90) scale(1.085,1)" font-family='"Liberation Sans", sans-serif' font-size="14.5" font-weight="normal" text-anchor="middle" fill="#262626" class="s">5000</text>
<line x1="81.70" y1="446.50" x2="84.20" y2="446.50" stroke="#5a5a5a" stroke-width="1.0"/>
<text transform="translate(78.90,451.70) scale(1.085,1)" font-family='"Liberation Sans", sans-serif' font-size="14.5" font-weight="normal" text-anchor="end" fill="#262626" class="s">0</text>
<line x1="81.70" y1="416.59" x2="84.20" y2="416.59" stroke="#5a5a5a" stroke-width="1.0"/>
<text transform="translate(78.90,421.79) scale(1.085,1)" font-family='"Liberation Sans", sans-serif' font-size="14.5" font-weight="normal" text-anchor="end" fill="#262626" class="s">20</text>
<line x1="81.70" y1="386.69" x2="84.20" y2="386.69" stroke="#5a5a5a" stroke-width="1.0"/>
<text transform="translate(78.90,391.89) scale(1.085,1)" font-family='"Liberation Sans", sans-serif' font-size="14.5" font-weight="normal" text-anchor="end" fill="#262626" class="s">40</text>
<line x1="81.70" y1="356.78" x2="84.20" y2="356.78" stroke="#5a5a5a" stroke-width="1.0"/>
<text transform="translate(78.90,361.98) scale(1.085,1)" font-family='"Liberation Sans", sans-serif' font-size="14.5" font-weight="normal" text-anchor="end" fill="#262626" class="s">60</text>
<line x1="81.70" y1="326.88" x2="84.20" y2="326.88" stroke="#5a5a5a" stroke-width="1.0"/>
<text transform="translate(78.90,332.08) scale(1.085,1)" font-family='"Liberation Sans", sans-serif' font-size="14.5" font-weight="normal" text-anchor="end" fill="#262626" class="s">80</text>
<line x1="81.70" y1="296.97" x2="84.20" y2="296.97" stroke="#5a5a5a" stroke-width="1.0"/>
<text transform="translate(78.90,302.17) scale(1.085,1)" font-family='"Liberation Sans", sans-serif' font-size="14.5" font-weight="normal" text-anchor="end" fill="#262626" class="s">100</text>
<text transform="translate(351.06,492.70) scale(1.085,1)" font-family='"Liberation Sans", sans-serif' font-size="14.5" font-weight="normal" text-anchor="middle" fill="#262626" class="s">Timestamp [ms]</text>
<text x="0" y="0" transform="translate(47.60,371.75) rotate(-90) scale(1.085,1)" font-family='"Liberation Sans", sans-serif' font-size="14.5" text-anchor="middle" fill="#262626" class="s">Velocity [rpm]</text>
<line x1="175.00" y1="569.50" x2="175.00" y2="740.50" stroke="#b0b0b0" stroke-width="1.0"/>
<line x1="265.88" y1="569.50" x2="265.88" y2="740.50" stroke="#b0b0b0" stroke-width="1.0"/>
<line x1="356.75" y1="569.50" x2="356.75" y2="740.50" stroke="#b0b0b0" stroke-width="1.0"/>
<line x1="447.63" y1="569.50" x2="447.63" y2="740.50" stroke="#b0b0b0" stroke-width="1.0"/>
<line x1="538.50" y1="569.50" x2="538.50" y2="740.50" stroke="#b0b0b0" stroke-width="1.0"/>
<line x1="84.13" y1="712.30" x2="618.00" y2="712.30" stroke="#b0b0b0" stroke-width="1.0"/>
<line x1="84.13" y1="683.80" x2="618.00" y2="683.80" stroke="#b0b0b0" stroke-width="1.0"/>
<line x1="84.13" y1="655.30" x2="618.00" y2="655.30" stroke="#b0b0b0" stroke-width="1.0"/>
<line x1="84.13" y1="626.80" x2="618.00" y2="626.80" stroke="#b0b0b0" stroke-width="1.0"/>
<line x1="84.13" y1="598.30" x2="618.00" y2="598.30" stroke="#b0b0b0" stroke-width="1.0"/>
<path d="M84.13,645.61 L84.49,646.39 L84.86,646.03 L85.22,646.13 L85.58,644.14 L85.95,648.33 L86.31,645.30 L86.67,647.91 L87.04,645.80 L87.40,644.41 L87.77,648.65 L88.13,646.50 L88.49,647.24 L88.86,647.37 L89.22,646.86 L89.58,648.57 L89.95,648.75 L90.31,646.09 L90.67,645.27 L91.40,649.37 L91.76,643.46 L92.13,644.35 L92.49,645.74 L92.85,648.35 L93.22,648.09 L93.58,646.66 L93.94,648.37 L94.31,644.66 L94.67,646.15 L95.03,646.03 L95.40,648.40 L95.76,648.62 L96.13,648.47 L96.49,646.66 L96.85,647.22 L97.22,647.37 L97.58,646.40 L97.94,646.37 L98.31,644.27 L98.67,646.79 L99.03,648.47 L99.40,647.17 L99.76,644.46 L100.12,647.28 L100.49,646.83 L100.85,647.43 L101.21,646.26 L101.58,646.29 L101.94,648.06 L102.30,647.43 L102.67,645.38 L103.03,644.73 L103.76,645.04 L104.12,648.20 L104.49,647.47 L104.85,645.42 L105.21,650.18 L105.58,647.23 L105.94,649.97 L106.30,648.03 L106.67,648.21 L107.03,649.05 L107.39,646.28 L107.76,647.92 L108.48,647.40 L108.85,648.13 L109.21,644.72 L109.57,647.23 L109.94,646.56 L110.30,648.94 L110.67,647.99 L111.03,647.58 L111.39,647.45 L111.76,647.90 L112.12,646.78 L112.48,644.24 L112.85,646.54 L113.57,647.51 L113.94,642.76 L114.30,643.39 L114.66,645.25 L115.03,645.39 L115.39,648.20 L116.12,646.56 L116.48,646.56 L116.84,648.18 L117.21,648.36 L117.57,646.26 L117.94,646.19 L118.30,650.16 L119.03,644.81 L119.39,649.49 L119.75,646.54 L120.12,649.17 L120.48,645.88 L120.84,648.48 L121.21,649.17 L121.57,647.79 L121.93,643.08 L122.30,647.10 L122.66,648.94 L123.02,646.48 L123.39,646.37 L123.75,643.98 L124.11,650.46 L124.48,649.74 L125.21,646.38 L125.57,646.13 L125.93,644.89 L126.30,648.91 L126.66,648.57 L127.02,647.37 L127.39,645.52 L127.75,645.78 L128.48,648.60 L128.84,645.70 L129.20,645.03 L129.57,642.00 L129.93,646.20 L130.29,644.03 L130.66,648.31 L131.02,647.99 L131.38,648.17 L131.75,647.82 L132.11,648.44 L132.48,648.01 L132.84,647.12 L133.57,648.30 L133.93,646.77 L134.29,646.80 L134.66,644.39 L135.02,645.83 L135.75,646.78 L136.11,646.70 L136.47,645.85 L136.84,647.95 L137.20,645.14 L137.56,643.92 L137.93,645.10 L138.66,649.52 L139.75,645.43 L140.11,647.60 L140.47,647.32 L140.84,644.41 L141.20,647.46 L141.56,645.18 L141.93,645.03 L142.29,648.65 L142.65,646.71 L143.02,647.72 L143.38,646.51 L143.74,645.99 L144.47,632.58 L144.83,629.23 L145.20,624.24 L145.56,622.24 L146.29,613.51 L146.65,611.07 L147.02,607.62 L147.38,600.23 L147.74,596.03 L148.11,593.73 L148.47,589.69 L148.83,588.24 L149.20,586.03 L149.56,590.09 L149.92,588.39 L150.29,585.62 L150.65,588.44 L151.01,586.68 L151.38,593.03 L151.74,587.57 L152.10,588.96 L152.47,592.25 L152.83,588.54 L153.19,587.38 L153.56,586.88 L153.92,586.83 L154.65,590.41 L155.01,590.23 L155.74,588.61 L156.10,589.91 L156.47,589.29 L156.83,587.81 L157.19,588.43 L157.56,585.31 L157.92,584.96 L158.28,590.32 L158.65,590.41 L159.01,593.85 L159.74,588.78 L160.10,590.77 L160.46,591.24 L160.83,592.18 L161.19,588.07 L161.56,589.59 L161.92,589.89 L162.28,587.86 L162.65,588.20 L163.01,588.29 L163.37,587.51 L163.74,590.59 L164.10,589.14 L164.46,590.28 L164.83,587.73 L165.19,587.61 L165.55,590.65 L165.92,587.31 L166.28,590.81 L166.64,587.60 L167.01,588.61 L167.37,590.55 L167.74,591.35 L168.10,590.14 L168.46,589.44 L168.83,590.44 L169.19,589.06 L169.55,591.42 L169.92,589.66 L170.28,588.82 L170.64,592.33 L171.01,589.31 L171.73,593.74 L172.10,591.11 L172.46,589.96 L172.82,587.85 L173.19,589.78 L173.55,586.90 L173.91,586.43 L174.28,586.90 L174.64,586.63 L175.37,589.98 L175.73,588.32 L176.10,587.47 L176.46,590.11 L176.82,589.52 L177.19,591.90 L177.55,588.63 L177.91,588.54 L178.28,591.25 L179.00,588.09 L179.37,589.19 L179.73,587.94 L180.09,587.75 L180.46,593.17 L180.82,590.16 L181.18,588.62 L181.91,586.59 L182.27,591.92 L183.00,588.19 L183.37,587.46 L183.73,586.02 L184.09,590.19 L184.46,590.05 L184.82,591.16 L185.18,588.24 L185.55,591.24 L185.91,587.65 L186.27,587.40 L186.64,588.07 L187.00,592.63 L187.36,591.02 L187.73,588.34 L188.09,591.40 L188.45,590.04 L188.82,589.57 L189.18,587.81 L189.54,588.50 L189.91,588.65 L190.27,589.87 L190.64,589.36 L191.00,589.49 L191.36,588.08 L191.73,589.32 L192.09,587.54 L192.45,591.75 L192.82,587.72 L193.18,589.25 L193.54,587.35 L193.91,588.76 L194.27,589.43 L194.63,586.49 L195.00,589.65 L195.36,589.20 L195.72,589.53 L196.09,588.95 L196.45,591.88 L196.81,590.02 L197.18,589.81 L197.54,590.64 L197.91,589.83 L198.27,591.91 L198.63,587.42 L199.00,588.16 L199.36,585.90 L199.72,590.08 L200.09,591.35 L200.45,589.20 L200.81,592.00 L201.18,590.40 L201.54,590.44 L201.90,590.01 L202.27,588.97 L202.63,589.11 L202.99,586.13 L203.36,587.61 L203.72,591.08 L204.08,587.99 L204.45,591.24 L204.81,589.47 L205.18,591.37 L205.54,591.01 L205.90,587.41 L206.27,589.81 L206.63,590.42 L206.99,590.42 L207.36,589.99 L207.72,586.99 L208.08,590.78 L208.45,591.59 L208.81,588.75 L209.17,591.79 L209.54,590.33 L209.90,587.59 L210.63,589.99 L210.99,590.36 L211.35,591.03 L211.72,590.57 L212.08,589.28 L212.45,587.19 L212.81,587.26 L213.17,589.83 L213.54,590.60 L213.90,588.38 L214.26,593.62 L214.63,591.16 L214.99,590.06 L215.35,591.24 L215.72,591.29 L216.08,589.08 L216.44,591.97 L216.81,589.02 L217.17,590.74 L217.53,589.41 L217.90,591.57 L218.26,587.91 L218.62,589.54 L218.99,589.76 L219.35,590.87 L219.72,590.54 L220.08,591.16 L220.44,587.74 L221.17,589.35 L221.53,589.59 L221.90,590.18 L222.26,588.43 L222.62,589.12 L222.99,590.74 L223.35,588.33 L223.71,591.60 L224.08,588.66 L224.44,590.67 L225.17,586.96 L225.53,587.92 L225.89,590.06 L226.26,590.40 L226.62,589.98 L226.99,591.38 L227.35,591.55 L227.71,589.67 L228.08,588.50 L228.44,592.08 L228.80,589.97 L229.17,588.63 L229.53,589.00 L229.89,590.93 L230.26,587.94 L230.62,591.09 L231.35,586.57 L231.71,592.18 L232.07,589.47 L232.44,588.87 L232.80,588.87 L233.16,590.53 L233.53,590.10 L233.89,591.81 L234.26,589.59 L234.62,588.51 L234.98,590.28 L235.35,591.07 L235.71,590.47 L236.07,589.58 L236.44,589.30 L236.80,589.52 L237.16,589.28 L237.53,591.52 L237.89,596.16 L238.25,589.28 L238.62,587.00 L238.98,596.03 L239.34,600.42 L240.07,606.94 L240.80,615.80 L241.16,622.61 L241.89,631.75 L242.25,637.91 L242.62,640.28 L242.98,645.57 L243.34,645.07 L243.71,647.25 L244.07,645.32 L244.43,648.39 L244.80,646.57 L245.16,651.19 L245.52,649.40 L245.89,646.21 L246.25,647.52 L246.61,646.76 L246.98,649.59 L247.34,644.90 L247.70,645.59 L248.07,646.72 L248.43,646.24 L248.80,646.29 L249.16,644.50 L249.52,646.14 L249.89,649.99 L250.25,649.75 L250.61,645.53 L250.98,645.64 L251.34,647.39 L251.70,646.05 L252.07,646.60 L252.43,645.88 L252.79,649.37 L253.16,648.89 L253.52,646.23 L253.88,647.17 L254.25,646.41 L254.61,643.64 L254.97,646.84 L255.34,648.56 L255.70,647.81 L256.07,648.14 L256.43,647.30 L257.16,650.99 L257.52,645.45 L257.88,646.82 L258.25,645.06 L258.61,646.41 L258.97,646.61 L259.34,645.80 L259.70,645.56 L260.06,648.67 L260.43,645.30 L260.79,648.24 L261.15,646.85 L261.52,642.75 L261.88,646.02 L262.25,644.04 L262.61,647.00 L262.97,645.96 L263.34,646.70 L263.70,646.22 L264.06,648.22 L264.43,648.70 L264.79,646.74 L265.15,649.47 L265.52,648.80 L265.88,646.25 L266.24,647.81 L266.97,649.08 L267.33,647.11 L267.70,647.57 L268.06,649.34 L268.42,647.24 L268.79,643.97 L269.51,650.19 L269.88,647.39 L270.61,646.69 L270.97,649.53 L271.33,645.58 L271.70,646.75 L272.06,646.97 L272.42,649.56 L272.79,646.67 L273.15,647.00 L273.51,644.73 L274.24,649.02 L274.60,647.15 L274.97,648.48 L275.33,646.55 L275.69,648.65 L276.06,647.47 L276.42,647.43 L276.78,647.08 L277.51,648.44 L277.88,647.33 L278.24,647.96 L278.60,646.88 L278.97,647.38 L279.33,650.69 L280.06,644.83 L280.42,646.03 L280.78,645.80 L281.15,646.01 L281.87,649.24 L282.24,646.29 L282.60,645.06 L282.96,645.66 L283.33,646.02 L283.69,646.14 L284.05,646.85 L284.42,646.49 L284.78,646.85 L285.15,646.40 L285.51,648.39 L285.87,648.24 L286.24,646.27 L286.60,647.36 L286.96,650.95 L287.33,647.51 L287.69,650.76 L288.05,644.54 L288.42,645.33 L288.78,645.53 L289.14,647.78 L289.51,648.94 L289.87,647.67 L290.23,647.04 L290.60,648.20 L291.32,645.83 L291.69,645.76 L292.42,650.72 L292.78,647.66 L293.14,648.13 L293.87,644.19 L294.23,643.77 L294.60,645.88 L294.96,645.84 L295.32,643.93 L295.69,646.30 L296.05,646.39 L296.41,645.48 L297.14,647.70 L297.50,648.29 L297.87,647.18 L298.23,647.97 L298.60,645.83 L298.96,647.25 L299.32,644.63 L299.69,644.55 L300.05,648.46 L300.41,645.49 L300.78,647.80 L301.14,644.78 L301.87,646.75 L302.23,645.82 L302.59,647.61 L302.96,646.51 L303.32,646.22 L303.68,648.69 L304.05,646.31 L304.41,648.40 L304.77,646.29 L305.14,648.73 L305.50,646.24 L305.87,646.03 L306.23,645.59 L306.59,647.55 L306.96,642.17 L307.32,646.37 L307.68,646.54 L308.05,648.06 L308.41,644.82 L308.77,647.25 L309.14,645.36 L309.50,648.12 L309.86,646.61 L310.23,647.43 L310.59,645.48 L311.32,648.29 L311.68,646.43 L312.04,648.69 L312.41,648.73 L312.77,646.00 L313.13,649.67 L313.50,646.17 L314.23,648.40 L314.59,646.77 L314.95,645.83 L315.32,647.58 L315.68,647.27 L316.04,645.66 L316.41,645.42 L317.13,648.04 L317.50,648.58 L317.86,648.12 L318.22,645.99 L318.59,645.75 L318.95,646.14 L319.31,645.81 L319.68,646.88 L320.04,647.45 L320.40,647.57 L320.77,643.93 L321.13,649.54 L321.50,646.87 L321.86,646.15 L322.22,648.24 L322.59,643.07 L323.31,645.11 L323.68,647.94 L324.04,646.25 L324.40,647.30 L324.77,648.99 L325.13,646.50 L325.49,647.51 L326.22,644.06 L326.58,644.64 L326.95,646.06 L327.31,649.73 L327.67,645.64 L328.04,644.87 L328.40,646.72 L328.77,647.54 L329.13,645.90 L329.49,647.90 L329.86,645.73 L330.22,648.30 L330.58,648.52 L330.95,647.09 L331.31,649.13 L331.67,647.21 L332.04,646.02 L332.40,648.70 L332.76,645.68 L333.13,647.46 L333.49,646.02 L333.85,646.31 L334.22,647.40 L334.58,647.72 L334.94,649.65 L335.31,648.41 L335.67,648.29 L336.04,644.45 L336.40,644.72 L336.76,648.53 L337.13,645.86 L337.49,646.26 L337.85,647.25 L338.22,646.14 L338.58,645.40 L338.94,647.40 L339.31,647.32 L339.67,646.62 L340.03,648.28 L340.40,646.76 L340.76,646.89 L341.12,647.85 L341.49,648.29 L342.21,645.34 L342.58,645.96 L342.94,647.96 L343.31,645.82 L343.67,646.32 L344.03,645.73 L344.40,646.40 L344.76,647.80 L345.12,647.18 L345.85,648.32 L346.21,643.90 L346.58,644.73 L346.94,649.14 L347.30,646.56 L347.67,647.85 L348.03,645.09 L348.39,646.31 L349.12,647.83 L349.49,646.12 L350.21,647.07 L350.58,647.03 L350.94,646.00 L351.30,648.38 L351.67,647.06 L352.03,647.01 L352.39,647.55 L352.76,645.75 L353.12,648.59 L353.48,647.67 L353.85,648.27 L354.21,646.17 L354.57,647.37 L355.30,646.16 L355.66,649.14 L356.03,646.49 L356.39,647.88 L356.75,647.35 L357.12,647.05 L357.48,645.84 L357.85,645.36 L358.21,643.72 L358.57,645.91 L358.94,647.35 L359.30,647.67 L360.03,644.07 L360.39,647.32 L360.75,647.46 L361.12,646.47 L361.48,646.30 L361.84,646.61 L362.21,647.89 L362.57,650.95 L363.30,645.40 L363.66,646.13 L364.02,650.09 L364.39,647.38 L364.75,649.77 L365.12,644.18 L365.84,648.47 L366.21,645.84 L366.57,647.81 L366.93,646.06 L367.30,646.59 L367.66,648.56 L368.02,646.06 L368.39,648.72 L368.75,645.01 L369.11,646.33 L369.84,649.89 L370.20,644.81 L370.57,644.10 L370.93,648.20 L371.29,644.46 L371.66,646.07 L372.02,646.96 L372.39,646.94 L372.75,647.21 L373.11,644.59 L373.48,646.11 L373.84,649.51 L374.20,644.00 L374.57,644.85 L374.93,648.08 L375.29,647.58 L375.66,648.33 L376.02,646.96 L376.38,646.17 L376.75,646.26 L377.11,647.60 L377.47,648.17 L377.84,645.69 L378.20,646.70 L378.56,643.20 L378.93,647.35 L379.29,646.02 L379.66,646.48 L380.02,647.88 L380.38,644.84 L381.11,648.04 L381.47,647.51 L381.84,645.30 L382.20,648.39 L382.56,644.89 L382.93,645.34 L383.29,646.91 L383.65,644.67 L384.02,643.62 L384.38,645.22 L384.74,646.21 L385.11,643.77 L385.47,643.85 L385.83,647.66 L386.20,647.27 L386.56,647.20 L386.93,647.47 L387.29,649.24 L387.65,645.80 L388.02,646.43 L388.38,646.52 L388.74,644.50 L389.11,647.22 L389.47,646.93 L389.83,646.37 L390.20,647.35 L390.56,647.04 L390.92,645.60 L391.29,646.54 L391.65,644.61 L392.01,647.54 L392.38,646.58 L392.74,648.98 L393.10,647.35 L393.47,647.97 L393.83,644.82 L394.20,645.47 L394.56,645.65 L394.92,643.65 L395.29,643.89 L395.65,645.08 L396.01,647.54 L396.38,649.20 L396.74,647.27 L397.10,647.40 L397.47,647.88 L397.83,647.42 L398.19,649.49 L398.56,644.90 L398.92,650.71 L399.65,646.11 L400.01,649.19 L400.38,645.75 L400.74,645.08 L401.47,648.50 L401.83,647.84 L402.19,649.88 L402.56,645.13 L402.92,648.71 L403.28,647.82 L403.65,648.41 L404.37,644.25 L404.74,648.29 L405.10,647.96 L405.46,649.78 L405.83,646.24 L406.19,647.97 L406.55,643.08 L406.92,646.26 L407.28,648.49 L407.64,648.01 L408.01,645.63 L408.37,649.12 L408.74,646.00 L409.10,646.22 L409.83,648.32 L410.19,645.37 L410.55,643.52 L410.92,646.84 L411.28,645.94 L411.64,643.84 L412.01,647.18 L412.37,647.24 L412.73,648.80 L413.10,647.37 L413.82,647.45 L414.19,648.06 L414.55,649.52 L414.91,649.41 L415.28,648.80 L415.64,646.10 L416.01,647.42 L416.37,648.22 L416.73,645.99 L417.10,645.70 L417.46,647.75 L417.82,647.95 L418.19,645.93 L418.55,646.00 L418.91,647.94 L419.28,646.60 L419.64,646.77 L420.00,644.97 L420.37,648.72 L420.73,645.54 L421.09,645.84 L421.46,648.18 L421.82,645.57 L422.19,645.03 L422.55,648.53 L422.91,643.93 L423.28,648.06 L423.64,648.45 L424.00,647.61 L424.37,645.67 L424.73,645.60 L425.09,646.68 L425.46,644.55 L425.82,645.69 L426.18,644.31 L426.55,642.00 L426.91,645.51 L427.27,650.67 L427.64,648.25 L428.00,648.76 L428.36,646.95 L428.73,646.63 L429.09,648.69 L429.45,648.97 L429.82,648.82 L430.18,647.21 L430.55,651.03 L430.91,645.98 L431.27,646.55 L431.64,646.70 L432.00,646.27 L432.36,648.32 L432.73,647.13 L433.09,645.14 L433.45,644.69 L433.82,645.61 L434.54,648.14 L434.91,644.88 L435.27,645.54 L435.63,647.20 L436.00,650.38 L436.36,649.22 L436.72,650.28 L437.09,645.36 L437.45,646.17 L437.82,647.83 L438.18,647.42 L438.54,642.64 L438.91,643.98 L439.27,648.42 L439.63,647.31 L440.00,650.08 L440.36,649.96 L440.72,647.07 L441.09,642.84 L441.45,643.43 L441.81,646.05 L442.18,647.26 L442.54,647.32 L442.90,645.01 L443.27,648.82 L443.63,650.22 L444.00,644.32 L444.36,645.81 L444.72,643.91 L445.09,645.84 L445.45,644.14 L445.81,647.28 L446.18,646.03 L446.54,644.07 L446.90,649.24 L447.27,656.49 L447.63,659.56 L448.36,672.75 L448.72,675.89 L449.08,677.22 L449.45,682.44 L449.81,690.75 L450.17,692.61 L450.90,702.43 L451.26,706.16 L451.63,701.22 L451.99,700.28 L452.36,700.76 L452.72,704.60 L453.08,704.92 L453.45,700.81 L453.81,700.36 L454.17,700.79 L454.54,702.13 L454.90,701.32 L455.26,704.41 L455.63,702.59 L455.99,703.50 L456.35,701.79 L456.72,702.59 L457.08,700.45 L457.44,701.16 L457.81,703.00 L458.17,699.07 L458.53,703.27 L459.26,700.04 L459.63,699.42 L459.99,705.15 L460.35,700.87 L460.72,699.70 L461.08,699.07 L461.44,705.12 L462.17,702.44 L462.53,702.74 L462.90,699.83 L463.26,702.67 L463.62,700.00 L463.99,700.64 L464.35,704.11 L464.71,704.02 L465.08,703.11 L465.44,701.97 L465.81,700.26 L466.17,701.91 L466.53,700.40 L467.26,707.49 L467.62,703.55 L467.99,701.45 L468.71,703.71 L469.08,701.78 L469.44,698.61 L469.80,703.11 L470.17,703.06 L470.53,703.58 L470.89,698.94 L471.26,701.42 L471.62,700.79 L471.98,699.69 L472.35,699.69 L472.71,703.06 L473.07,700.55 L473.44,700.26 L473.80,700.78 L474.17,700.02 L474.53,702.52 L474.89,702.17 L475.26,705.17 L475.62,700.82 L475.98,702.81 L476.35,701.43 L476.71,703.68 L477.07,702.45 L477.44,702.64 L478.16,701.76 L478.53,702.20 L478.89,702.34 L479.25,705.48 L479.62,700.74 L479.98,702.75 L480.34,702.47 L480.71,703.43 L481.07,700.53 L481.44,703.18 L482.16,699.84 L482.53,698.76 L482.89,699.34 L483.25,700.41 L483.62,703.67 L483.98,700.10 L484.34,699.59 L485.07,700.45 L485.80,702.71 L486.16,700.26 L486.52,699.47 L486.89,703.19 L487.25,700.64 L487.62,701.27 L487.98,700.29 L488.34,701.24 L488.71,699.91 L489.07,699.82 L489.43,700.03 L489.80,703.87 L490.16,700.91 L490.52,701.64 L490.89,703.72 L491.25,701.07 L491.61,704.03 L491.98,700.79 L492.34,698.86 L492.70,702.15 L493.07,702.61 L493.43,700.88 L493.79,700.61 L494.16,703.91 L494.52,701.26 L494.88,701.55 L495.25,700.57 L495.61,701.63 L495.98,700.01 L496.34,701.08 L496.70,700.60 L497.07,699.37 L497.43,701.10 L497.79,700.08 L498.16,701.17 L498.52,700.87 L498.88,702.57 L499.25,700.72 L499.61,699.62 L499.97,701.57 L500.34,700.50 L500.70,700.91 L501.06,703.52 L501.79,699.63 L502.52,704.89 L502.88,702.11 L503.25,702.98 L503.61,698.91 L503.97,701.37 L504.34,701.77 L504.70,702.90 L505.06,701.64 L505.43,702.75 L505.79,703.51 L506.15,702.27 L506.52,703.27 L506.88,699.93 L507.24,703.42 L507.61,702.26 L507.97,703.08 L508.33,704.35 L508.70,699.58 L509.06,704.89 L509.43,700.01 L509.79,703.85 L510.15,702.06 L510.52,698.18 L510.88,704.65 L511.24,704.64 L511.61,700.24 L512.33,702.62 L512.70,702.07 L513.06,703.48 L513.42,701.95 L513.79,699.41 L514.15,702.01 L514.51,701.66 L515.24,698.20 L515.60,702.13 L515.97,701.42 L516.33,702.72 L516.69,703.07 L517.06,702.75 L517.42,703.06 L517.79,704.92 L518.15,705.70 L519.24,699.86 L519.60,702.34 L519.97,702.22 L520.33,700.85 L520.69,700.44 L521.06,701.77 L521.42,701.93 L521.78,699.38 L522.15,701.82 L522.51,702.65 L522.87,704.70 L523.24,701.67 L523.60,702.25 L523.96,698.77 L524.33,702.60 L524.69,700.51 L525.06,700.09 L525.42,698.81 L525.78,703.44 L526.15,699.59 L526.51,701.91 L526.87,701.93 L527.24,702.40 L527.60,702.60 L527.96,704.99 L528.33,705.82 L528.69,701.76 L529.05,701.73 L529.42,703.37 L529.78,702.25 L530.14,698.15 L530.87,702.24 L531.23,699.14 L531.60,702.65 L531.96,702.25 L532.33,702.86 L532.69,702.42 L533.05,700.76 L533.42,700.69 L533.78,702.83 L534.51,701.80 L534.87,702.51 L535.23,702.04 L535.60,703.07 L535.96,703.29 L536.32,702.05 L536.69,703.58 L537.05,701.49 L537.41,702.11 L537.78,703.40 L538.50,702.89 L539.23,701.75 L539.60,702.18 L539.96,703.34 L540.32,699.80 L540.69,699.99 L541.05,701.32 L541.41,700.22 L541.78,701.35 L542.14,700.00 L542.50,695.40 L542.87,686.85 L543.23,684.51 L543.59,680.54 L543.96,678.70 L544.68,666.08 L545.05,664.24 L545.41,659.39 L545.77,656.56 L546.50,645.79 L546.87,644.54 L547.23,644.46 L547.59,646.29 L547.96,641.30 L548.32,644.16 L548.68,645.01 L549.05,644.67 L549.41,645.80 L549.77,645.51 L550.14,646.74 L550.50,645.64 L550.86,646.11 L551.23,644.67 L551.95,646.42 L552.68,645.76 L553.04,646.33 L553.41,644.08 L553.77,644.09 L554.14,644.94 L554.50,647.29 L554.86,644.96 L555.23,647.43 L555.59,645.50 L555.95,645.38 L556.32,646.37 L556.68,646.97 L557.04,646.86 L557.41,642.37 L557.77,645.28 L558.13,645.74 L558.50,643.96 L558.86,644.48 L559.22,643.54 L559.59,647.08 L559.95,647.52 L560.32,640.44 L560.68,644.55 L561.04,645.73 L561.41,645.27 L561.77,643.80 L562.13,647.06 L562.50,645.29 L562.86,645.47 L563.22,644.34 L563.59,644.96 L563.95,646.21 L564.31,647.00 L564.68,649.68 L565.04,644.65 L565.40,649.20 L566.13,642.96 L566.49,645.63 L566.86,644.48 L567.22,645.62 L567.59,644.34 L567.95,645.19 L568.31,647.58 L568.68,643.41 L569.40,647.61 L570.13,644.75 L570.49,647.10 L570.86,644.48 L571.22,644.03 L571.58,641.74 L571.95,645.79 L572.31,644.45 L572.67,647.97 L573.40,645.50 L573.76,644.78 L574.49,646.09 L574.86,646.46 L575.22,646.35 L575.58,645.12 L575.95,644.47 L576.31,644.22 L577.04,643.19 L577.40,648.92 L577.76,646.77 L578.13,645.97 L578.49,646.56 L578.85,643.96 L579.22,646.42 L579.58,645.33 L579.94,645.24 L580.31,643.38 L580.67,645.61 L581.03,645.98 L581.40,644.10 L581.76,644.43 L582.12,642.96 L582.49,644.39 L582.85,644.04 L583.22,646.07 L583.58,647.08 L583.94,645.77 L584.31,649.77 L584.67,645.59 L585.03,643.91 L585.40,645.00 L585.76,645.72 L586.12,643.76 L586.49,645.19 L586.85,643.82 L587.21,641.62 L587.58,645.01 L587.94,643.59 L588.67,644.83 L589.03,644.89 L589.39,645.24 L589.76,643.66 L590.12,647.70 L590.85,645.05 L591.21,646.61 L591.58,645.83 L591.94,646.64 L592.30,644.95 L593.03,642.82" fill="none" stroke="#2a7bb9" stroke-width="1.5" stroke-linejoin="round" stroke-linecap="butt" opacity="1.0"/>
<path d="M84.13,642.44 L84.86,642.58 L85.22,642.86 L85.95,642.27 L86.31,642.68 L86.67,642.48 L87.04,642.77 L87.40,643.33 L87.77,643.36 L88.86,642.26 L89.22,642.66 L89.58,642.82 L89.95,642.77 L90.31,642.50 L90.67,642.60 L91.40,643.63 L92.13,642.43 L92.49,642.78 L92.85,642.14 L93.22,642.30 L93.58,642.20 L93.94,641.78 L94.67,642.68 L95.03,643.47 L96.13,642.56 L96.49,642.39 L96.85,642.48 L97.22,642.09 L97.58,642.74 L98.31,642.54 L98.67,642.73 L99.03,642.10 L99.40,642.16 L99.76,641.83 L100.12,641.78 L100.49,642.20 L100.85,641.63 L101.21,641.54 L101.94,642.35 L102.30,643.07 L103.03,643.43 L103.40,643.39 L103.76,643.63 L104.12,643.40 L104.49,643.51 L104.85,644.25 L105.21,644.37 L105.94,645.01 L106.30,644.87 L106.67,644.25 L107.03,644.66 L107.39,645.35 L107.76,645.10 L108.12,643.54 L108.48,643.87 L108.85,643.75 L109.21,643.96 L109.94,643.01 L110.30,643.27 L110.67,642.89 L111.03,643.55 L111.39,643.51 L111.76,644.12 L112.12,643.95 L112.48,644.16 L112.85,643.97 L113.21,644.38 L113.94,643.95 L114.66,644.35 L115.03,644.67 L115.39,644.58 L115.75,644.16 L116.48,643.83 L116.84,643.18 L117.21,643.33 L117.57,643.19 L117.94,642.83 L118.30,642.68 L118.66,642.61 L119.03,642.68 L119.39,641.92 L120.12,642.54 L120.48,642.37 L120.84,641.78 L121.21,641.41 L121.57,641.71 L121.93,641.60 L122.30,641.65 L122.66,641.87 L123.39,641.74 L123.75,641.90 L124.11,641.34 L124.48,641.81 L125.57,640.31 L126.30,641.23 L126.66,642.25 L127.02,642.38 L127.39,641.42 L128.11,643.13 L128.48,642.69 L128.84,642.45 L129.20,643.32 L129.57,643.24 L129.93,643.01 L130.29,643.65 L130.66,643.07 L131.02,643.62 L131.38,643.01 L131.75,642.93 L132.11,643.26 L132.48,643.92 L133.57,643.71 L133.93,643.85 L134.29,643.81 L134.66,643.33 L135.02,643.73 L135.38,643.74 L135.75,643.48 L136.11,643.49 L136.84,642.55 L137.20,642.92 L137.56,642.99 L137.93,644.40 L138.29,644.39 L138.66,643.94 L139.02,644.37 L139.38,643.67 L139.75,644.50 L140.11,643.76 L140.47,644.00 L140.84,644.41 L141.56,644.46 L142.29,645.17 L142.65,645.12 L143.38,643.58 L147.02,605.91 L147.74,599.98 L148.83,589.43 L149.20,589.14 L149.56,589.47 L149.92,589.65 L150.65,589.41 L151.01,589.15 L151.74,589.43 L152.10,590.68 L152.47,590.09 L152.83,590.84 L153.19,590.78 L153.56,589.63 L153.92,589.97 L154.29,590.80 L154.65,590.08 L155.01,590.46 L155.74,590.72 L156.47,590.20 L156.83,590.43 L157.19,590.08 L157.56,590.68 L157.92,590.48 L158.28,590.88 L158.65,590.65 L159.01,591.05 L159.37,591.28 L159.74,590.66 L160.46,591.80 L160.83,591.47 L161.56,591.73 L161.92,591.74 L162.28,590.78 L162.65,591.40 L163.01,591.55 L163.37,591.50 L163.74,591.92 L164.10,591.88 L164.46,591.62 L164.83,592.03 L165.19,591.47 L165.55,592.02 L165.92,592.03 L166.28,591.81 L166.64,590.43 L167.01,591.48 L167.37,591.43 L167.74,590.42 L168.10,590.98 L168.46,590.71 L168.83,590.85 L169.19,591.68 L169.55,591.54 L169.92,591.97 L170.28,591.90 L170.64,592.52 L171.01,592.04 L171.37,593.03 L171.73,592.81 L172.10,592.03 L172.46,591.75 L173.55,592.09 L173.91,590.84 L174.64,591.19 L175.00,591.60 L175.37,591.79 L175.73,591.48 L176.46,592.04 L176.82,592.14 L177.19,592.15 L177.55,591.89 L177.91,591.99 L178.28,591.94 L178.64,592.12 L179.00,591.40 L179.37,591.32 L179.73,591.43 L180.09,591.26 L180.46,591.24 L180.82,591.88 L181.18,591.76 L181.55,590.88 L181.91,590.68 L182.27,590.22 L182.64,590.64 L183.00,591.31 L183.37,591.48 L183.73,590.73 L184.09,591.14 L184.46,591.36 L184.82,590.71 L185.55,590.79 L185.91,590.54 L186.27,590.47 L186.64,590.56 L187.00,590.37 L187.36,590.64 L187.73,590.56 L188.09,590.18 L188.45,590.62 L188.82,590.57 L189.18,590.91 L189.54,590.37 L190.64,589.14 L191.00,588.84 L191.36,588.71 L191.73,589.24 L192.09,588.91 L192.45,589.44 L192.82,588.44 L193.18,588.54 L193.54,588.47 L193.91,589.19 L194.63,588.36 L195.00,589.22 L196.09,589.76 L196.81,588.10 L197.18,588.76 L197.54,588.36 L197.91,588.60 L198.27,588.08 L198.63,589.30 L199.00,589.40 L199.36,588.75 L199.72,589.09 L200.09,588.50 L200.45,588.78 L200.81,588.29 L201.18,588.12 L201.90,588.81 L202.27,588.84 L202.63,588.31 L202.99,588.40 L203.36,588.73 L203.72,587.29 L204.08,588.26 L204.45,588.44 L204.81,588.23 L205.18,588.76 L205.54,588.74 L205.90,588.88 L206.27,589.47 L206.63,589.08 L206.99,589.47 L207.36,589.61 L207.72,588.86 L208.08,589.29 L209.17,587.99 L209.54,587.94 L209.90,588.24 L210.26,588.94 L210.99,588.64 L211.72,589.30 L212.08,588.83 L212.45,589.29 L212.81,589.02 L213.17,589.21 L213.54,589.88 L213.90,589.00 L214.63,588.59 L214.99,589.33 L215.35,589.35 L215.72,589.21 L216.08,589.53 L216.44,588.76 L216.81,589.76 L217.17,589.38 L217.53,590.20 L217.90,590.71 L218.26,591.00 L218.62,590.43 L219.72,590.83 L220.08,591.24 L220.81,591.43 L221.53,591.11 L221.90,591.91 L222.26,591.78 L222.62,590.91 L222.99,590.95 L223.35,590.83 L224.08,591.16 L224.44,591.03 L224.80,591.49 L225.17,591.35 L225.53,591.90 L225.89,591.47 L226.26,591.97 L226.99,590.84 L227.35,591.55 L227.71,591.12 L228.08,591.24 L228.44,590.69 L228.80,591.01 L229.53,591.28 L229.89,590.72 L230.26,591.67 L230.62,591.26 L230.98,591.23 L231.35,591.47 L231.71,591.56 L232.44,590.86 L232.80,590.28 L233.16,590.85 L233.53,591.82 L233.89,592.03 L234.62,592.16 L234.98,591.54 L235.35,590.61 L235.71,590.71 L236.07,591.73 L236.44,591.29 L236.80,591.70 L237.16,591.73 L237.53,591.40 L237.89,591.36 L238.25,591.52 L238.62,590.70 L239.71,601.09 L240.44,610.67 L241.89,625.21 L242.62,633.58 L242.98,637.05 L243.34,638.14 L243.71,638.31 L244.07,638.15 L244.43,637.43 L244.80,638.48 L245.16,637.72 L245.52,637.69 L245.89,638.16 L246.25,637.85 L246.61,637.88 L246.98,637.41 L247.34,637.92 L247.70,637.56 L248.07,638.09 L248.80,637.74 L249.16,637.90 L249.52,637.72 L249.89,638.12 L250.25,637.74 L250.98,638.52 L251.70,638.65 L252.07,639.04 L252.43,638.67 L252.79,638.80 L253.16,638.61 L253.88,639.94 L254.25,639.94 L254.61,640.29 L254.97,640.22 L255.34,639.90 L256.07,638.97 L256.43,638.93 L256.79,639.57 L257.16,639.56 L257.52,640.06 L257.88,640.02 L258.25,640.71 L258.61,640.27 L258.97,640.35 L259.34,640.76 L259.70,641.56 L260.06,641.51 L260.43,641.87 L260.79,641.83 L261.52,642.55 L261.88,642.31 L262.25,641.78 L262.61,642.56 L262.97,642.72 L263.34,642.62 L264.06,643.04 L264.43,642.13 L264.79,642.72 L265.15,642.66 L265.52,642.97 L265.88,643.03 L266.24,644.01 L266.61,643.39 L266.97,643.37 L267.33,643.65 L267.70,642.71 L268.06,642.80 L268.79,643.18 L269.15,642.48 L269.51,642.36 L269.88,642.36 L270.24,642.77 L270.61,642.88 L270.97,642.37 L271.33,642.11 L271.70,642.71 L272.06,642.66 L272.42,642.10 L272.79,640.60 L273.15,640.87 L273.51,641.67 L273.88,641.00 L274.24,640.97 L274.60,641.29 L274.97,640.70 L275.33,640.58 L276.06,641.06 L276.78,640.42 L277.15,640.95 L277.51,640.18 L277.88,640.52 L278.24,639.65 L278.60,639.44 L278.97,639.52 L279.33,639.33 L279.69,639.58 L280.06,639.58 L280.42,638.84 L280.78,639.22 L281.15,638.94 L281.51,639.46 L281.87,639.50 L282.24,639.11 L282.60,639.77 L282.96,639.63 L283.33,640.59 L283.69,640.93 L284.05,640.89 L284.42,640.32 L284.78,639.96 L285.15,640.39 L285.51,640.40 L285.87,640.28 L286.24,640.95 L286.60,640.64 L287.33,639.55 L288.42,640.72 L288.78,640.88 L289.14,640.90 L289.51,640.51 L289.87,640.47 L290.23,640.88 L290.96,640.09 L291.32,640.43 L292.05,640.56 L292.42,641.22 L292.78,640.98 L293.14,640.56 L293.51,639.67 L293.87,639.71 L294.60,640.04 L295.32,639.50 L295.69,639.98 L296.05,639.88 L296.41,639.59 L296.78,640.50 L297.14,639.75 L297.50,639.82 L297.87,639.40 L298.96,639.57 L299.32,639.41 L299.69,639.04 L300.05,639.21 L300.41,639.70 L301.14,640.16 L301.50,639.62 L301.87,639.92 L302.23,639.09 L302.96,639.07 L303.32,638.52 L304.05,638.99 L304.77,638.45 L305.14,639.03 L305.50,638.00 L305.87,638.02 L306.23,638.82 L306.59,638.98 L306.96,638.64 L307.32,638.69 L307.68,638.47 L308.05,637.66 L308.41,637.67 L308.77,637.22 L309.14,637.44 L309.50,638.22 L309.86,637.89 L310.23,638.60 L310.59,638.46 L310.95,638.49 L311.68,639.66 L312.04,639.82 L312.41,639.69 L312.77,639.22 L313.13,639.40 L313.50,638.77 L313.86,638.72 L314.59,639.84 L314.95,639.93 L315.32,640.26 L315.68,640.32 L316.04,640.02 L316.41,639.99 L316.77,639.68 L317.50,640.57 L318.22,641.74 L318.59,641.64 L318.95,641.34 L319.68,641.02 L320.04,639.98 L320.40,640.50 L321.13,640.67 L321.50,640.93 L321.86,640.16 L322.22,640.14 L322.59,639.56 L322.95,640.12 L323.68,638.38 L324.04,639.04 L324.77,639.31 L325.13,639.12 L325.49,639.75 L326.22,639.14 L326.58,639.43 L326.95,640.36 L327.31,640.39 L327.67,640.28 L328.04,639.70 L328.40,639.83 L328.77,640.16 L329.13,639.63 L329.86,638.96 L330.22,638.93 L330.58,638.48 L330.95,638.37 L331.31,639.26 L331.67,639.10 L332.04,638.74 L332.40,638.78 L332.76,638.20 L333.13,638.56 L333.49,638.37 L333.85,639.05 L334.22,639.07 L334.58,639.33 L335.31,640.19 L336.04,639.60 L336.40,639.84 L336.76,640.29 L337.13,640.51 L337.49,639.97 L337.85,640.42 L338.22,639.78 L338.58,640.49 L339.31,639.87 L339.67,639.37 L340.40,640.09 L340.76,640.70 L341.12,640.18 L341.49,640.23 L342.21,640.57 L342.58,640.40 L342.94,640.36 L343.31,639.84 L343.67,640.88 L344.03,640.40 L344.40,640.63 L345.49,640.65 L345.85,640.27 L346.21,640.18 L346.58,640.82 L347.30,640.66 L347.67,640.40 L348.39,640.32 L348.76,639.82 L349.12,640.34 L349.49,639.33 L350.21,640.17 L351.67,638.38 L352.03,638.44 L352.39,638.65 L352.76,638.66 L353.12,638.82 L353.48,639.16 L354.21,637.88 L355.30,638.82 L355.66,639.60 L356.39,639.80 L356.75,639.63 L357.12,639.91 L357.48,640.52 L357.85,639.89 L358.21,638.94 L358.57,639.84 L358.94,639.70 L359.30,639.16 L360.03,640.09 L360.39,639.84 L360.75,639.75 L361.12,639.87 L361.84,638.36 L362.21,638.25 L362.93,638.79 L363.30,638.52 L363.66,638.79 L364.02,638.29 L364.39,638.02 L364.75,638.60 L365.12,638.49 L365.48,638.07 L365.84,638.14 L366.21,638.89 L366.93,639.49 L367.66,639.62 L368.02,639.86 L368.75,639.08 L369.11,639.55 L369.48,640.32 L369.84,640.13 L370.20,640.15 L370.57,639.99 L370.93,640.34 L371.29,640.20 L371.66,640.61 L372.39,639.38 L372.75,639.97 L373.11,641.14 L373.84,641.16 L374.93,640.35 L375.29,639.11 L375.66,639.54 L376.02,639.79 L376.38,639.63 L376.75,640.48 L377.11,639.98 L377.47,640.20 L377.84,640.69 L378.20,640.83 L379.29,639.16 L379.66,639.01 L380.02,639.39 L380.38,639.12 L380.75,639.17 L381.11,638.16 L381.47,639.26 L381.84,638.52 L382.20,638.29 L382.56,638.26 L382.93,638.43 L383.29,638.77 L384.02,639.77 L384.38,638.67 L384.74,638.29 L385.11,638.10 L385.47,638.09 L385.83,639.06 L386.20,639.10 L386.56,638.97 L386.93,638.42 L387.29,638.94 L387.65,638.78 L388.02,638.90 L388.38,638.87 L388.74,639.21 L389.11,638.99 L389.47,638.94 L389.83,639.75 L390.56,638.14 L390.92,638.74 L391.29,638.35 L391.65,638.98 L392.01,639.27 L392.38,638.53 L392.74,638.64 L393.10,638.19 L393.47,638.36 L393.83,638.20 L394.20,638.59 L394.92,637.79 L395.29,637.95 L396.38,639.65 L397.10,639.36 L397.47,639.82 L397.83,639.47 L398.19,639.85 L398.56,639.13 L398.92,638.99 L399.28,638.56 L400.01,639.84 L400.38,640.68 L400.74,640.27 L401.10,640.72 L401.47,639.99 L401.83,639.93 L402.19,639.60 L402.56,640.22 L402.92,640.40 L403.28,640.20 L403.65,639.79 L404.01,640.33 L404.37,640.04 L404.74,640.31 L405.10,639.80 L405.83,639.88 L406.19,639.58 L406.55,639.02 L406.92,639.18 L407.28,638.65 L407.64,639.20 L408.01,639.06 L408.37,639.54 L408.74,639.32 L409.10,639.62 L409.46,639.44 L409.83,639.05 L410.19,639.40 L410.55,640.01 L410.92,639.80 L411.28,639.34 L411.64,639.10 L412.01,639.39 L412.37,638.87 L412.73,638.95 L413.10,638.56 L413.46,638.96 L413.82,638.70 L414.19,638.19 L414.55,638.57 L414.91,638.73 L415.64,638.30 L416.01,638.26 L416.37,638.43 L416.73,639.19 L417.10,639.13 L417.46,639.65 L417.82,639.48 L418.19,640.38 L418.91,638.62 L419.28,638.57 L419.64,639.09 L420.00,639.29 L420.37,638.95 L420.73,638.78 L421.09,639.25 L421.46,638.82 L422.19,638.70 L422.55,639.09 L422.91,639.24 L423.28,639.68 L423.64,639.65 L424.00,640.00 L424.37,639.48 L425.09,639.62 L425.82,639.55 L426.18,640.28 L426.55,639.70 L426.91,639.76 L427.64,640.49 L428.00,640.70 L428.36,640.83 L428.73,640.65 L429.09,640.88 L429.82,640.43 L430.18,640.61 L430.55,639.51 L430.91,639.64 L431.27,639.53 L432.00,639.64 L432.36,639.34 L432.73,638.82 L433.09,639.01 L433.45,639.47 L433.82,639.22 L434.18,640.16 L434.54,639.90 L434.91,639.83 L435.27,639.54 L435.63,640.10 L436.00,640.06 L436.36,640.26 L436.72,640.22 L437.09,639.69 L437.45,639.60 L437.82,639.69 L438.18,639.00 L438.54,638.96 L438.91,639.79 L439.27,640.01 L440.00,639.19 L440.72,638.83 L441.09,639.19 L441.45,639.14 L441.81,639.56 L442.54,639.93 L442.90,640.05 L443.63,639.82 L444.00,639.98 L444.36,639.32 L444.72,639.47 L445.09,638.73 L445.45,638.41 L445.81,639.11 L446.18,638.79 L446.54,639.52 L446.90,641.08 L448.72,670.41 L450.54,696.95 L450.90,697.81 L451.26,698.36 L451.63,698.28 L451.99,698.75 L452.36,698.89 L452.72,700.19 L453.08,699.02 L453.45,698.70 L453.81,697.25 L454.54,695.41 L455.26,695.66 L455.63,696.49 L455.99,696.28 L456.35,697.01 L456.72,696.60 L457.44,697.73 L457.81,697.84 L458.17,698.64 L458.53,697.97 L458.90,698.54 L459.26,698.39 L459.63,699.60 L460.35,697.61 L460.72,698.29 L461.08,695.28 L461.44,693.83 L461.81,693.84 L462.17,693.20 L462.53,693.90 L462.90,693.75 L463.26,695.18 L463.62,694.50 L463.99,695.45 L464.71,696.64 L465.44,698.29 L465.81,699.69 L466.17,698.49 L466.53,699.41 L467.26,697.81 L468.35,699.58 L469.08,699.00 L469.44,698.16 L469.80,698.57 L470.17,698.73 L470.53,697.58 L470.89,697.81 L471.26,697.43 L471.62,696.40 L472.35,698.32 L473.07,697.48 L473.80,698.02 L474.17,698.18 L474.53,697.92 L474.89,696.86 L475.26,696.95 L475.62,696.17 L475.98,695.91 L476.71,698.07 L477.07,698.23 L477.44,698.09 L477.80,698.55 L478.16,697.75 L478.89,698.52 L479.25,697.94 L479.62,697.79 L479.98,698.17 L480.34,697.59 L481.07,696.80 L481.44,695.78 L481.80,695.47 L482.16,696.32 L482.53,696.74 L483.25,698.88 L483.62,697.18 L483.98,698.07 L484.34,696.57 L484.71,696.36 L485.43,695.07 L485.80,695.07 L486.16,695.60 L486.52,696.55 L486.89,697.03 L487.25,697.18 L487.62,696.62 L487.98,698.34 L488.34,696.93 L489.07,696.04 L489.43,696.56 L490.16,696.44 L490.52,697.38 L490.89,697.61 L491.25,697.25 L491.61,697.59 L491.98,696.63 L492.34,696.31 L492.70,697.19 L493.07,697.32 L493.79,697.18 L494.52,695.62 L494.88,694.36 L495.25,693.63 L495.61,694.71 L495.98,695.14 L497.43,699.28 L497.79,698.05 L498.16,698.79 L498.52,698.77 L499.61,697.79 L499.97,697.11 L500.34,697.11 L500.70,696.49 L501.06,694.93 L501.43,695.23 L501.79,696.26 L502.15,695.96 L502.52,697.39 L503.25,695.65 L503.61,696.93 L503.97,697.79 L504.34,697.47 L504.70,698.04 L505.06,697.52 L505.43,697.77 L506.15,697.71 L506.88,697.25 L507.24,697.37 L507.61,697.31 L507.97,697.39 L508.33,696.75 L509.06,696.15 L509.43,694.87 L509.79,694.49 L510.15,695.30 L510.52,694.88 L511.24,694.91 L511.61,695.50 L511.97,695.27 L513.06,698.20 L513.79,698.68 L514.15,699.55 L514.88,697.95 L515.24,698.70 L515.60,698.23 L515.97,697.08 L516.33,696.65 L516.69,694.84 L517.06,694.59 L517.42,696.17 L517.79,697.11 L518.15,696.83 L518.51,697.70 L518.88,698.18 L519.24,697.49 L519.60,697.29 L519.97,698.37 L520.33,697.50 L521.06,697.41 L521.78,695.46 L522.15,695.02 L522.51,695.17 L522.87,694.66 L523.24,694.69 L523.60,695.53 L523.96,696.92 L524.33,699.04 L524.69,699.07 L525.06,697.78 L525.42,699.05 L525.78,698.96 L526.51,695.80 L526.87,695.84 L527.24,695.65 L527.96,696.40 L528.33,697.79 L528.69,698.50 L529.42,698.87 L529.78,699.35 L530.14,699.32 L530.51,699.66 L530.87,698.24 L531.23,697.74 L531.60,695.96 L531.96,695.62 L532.33,695.85 L532.69,696.50 L533.05,696.08 L533.42,696.19 L533.78,695.67 L534.14,695.82 L534.51,696.83 L534.87,696.82 L535.23,697.72 L535.60,698.31 L535.96,698.46 L536.32,698.39 L536.69,698.85 L537.05,698.70 L537.41,698.06 L537.78,698.72 L538.14,698.23 L538.50,698.79 L538.87,699.14 L539.60,698.73 L539.96,698.70 L540.32,698.97 L540.69,698.79 L541.05,699.31 L541.41,699.42 L541.78,699.32 L542.14,698.78 L545.41,666.65 L546.87,651.33 L547.23,650.14 L547.59,649.74 L547.96,649.07 L548.32,648.72 L548.68,648.09 L549.05,647.75 L549.41,647.63 L549.77,647.86 L550.14,647.17 L550.50,647.44 L550.86,647.32 L551.23,646.46 L551.59,646.29 L552.68,645.99 L553.04,646.08 L553.41,645.91 L554.14,646.01 L554.86,645.58 L555.23,645.51 L555.59,645.26 L556.32,644.51 L556.68,644.81 L557.04,645.40 L557.41,645.11 L557.77,645.22 L558.13,645.10 L558.50,645.36 L558.86,645.16 L559.22,645.64 L559.59,645.58 L559.95,646.02 L560.32,645.27 L560.68,645.45 L561.04,646.16 L561.41,645.60 L562.13,644.94 L562.50,645.48 L562.86,645.39 L563.22,645.03 L563.59,645.25 L563.95,645.21 L564.68,645.53 L565.04,645.12 L565.40,645.49 L565.77,645.49 L566.13,645.34 L566.49,645.39 L566.86,645.18 L567.22,645.91 L567.59,645.45 L567.95,645.86 L568.68,645.87 L569.04,645.64 L569.77,645.78 L570.13,645.50 L570.49,644.87 L571.22,645.55 L572.31,646.31 L572.67,646.24 L573.04,645.83 L573.76,646.07 L574.13,645.96 L574.49,646.10 L574.86,645.11 L575.22,644.76 L575.58,644.98 L575.95,645.68 L577.04,646.17 L577.40,646.68 L578.49,646.41 L578.85,646.58 L579.22,646.18 L579.58,646.29 L579.94,646.80 L580.31,646.78 L581.03,645.64 L581.40,645.98 L581.76,645.92 L582.49,645.34 L582.85,645.56 L583.22,645.47 L583.58,645.64 L583.94,646.19 L584.31,645.74 L584.67,645.71 L585.03,645.54 L585.40,645.63 L585.76,645.90 L586.12,645.96 L586.49,645.76 L586.85,646.11 L587.58,644.81 L587.94,645.75 L588.30,645.42 L588.67,645.60 L589.03,645.41 L589.76,645.52 L590.12,645.26 L590.49,645.33 L590.85,644.94 L591.21,645.03 L591.58,645.63 L592.30,645.66 L592.67,645.81 L593.03,646.14" fill="none" stroke="#3da14e" stroke-width="1.5" stroke-linejoin="round" stroke-linecap="butt" opacity="1.0"/>
<path d="M84.13,646.01 L137.56,645.99 L139.38,645.89 L140.47,645.70 L141.20,645.44 L141.93,644.97 L142.29,644.55 L142.65,643.82 L143.02,642.39 L143.38,639.30 L143.74,632.76 L144.83,594.95 L145.20,588.14 L145.56,584.65 L145.93,582.72 L146.29,581.43 L147.02,579.48 L147.74,577.98 L148.47,576.95 L148.83,576.66 L149.20,576.53 L149.56,576.58 L149.92,576.79 L150.65,577.67 L151.74,579.87 L153.92,585.08 L154.65,586.46 L155.38,587.55 L156.10,588.36 L156.83,588.91 L157.56,589.27 L158.65,589.56 L160.10,589.70 L162.28,589.75 L231.71,589.75 L233.89,589.78 L235.35,589.91 L236.07,590.07 L236.80,590.40 L237.53,591.06 L237.89,591.65 L238.25,592.63 L238.62,594.32 L238.98,597.39 L239.34,602.84 L239.71,611.58 L240.44,634.68 L240.80,643.62 L241.16,649.38 L241.53,652.85 L241.89,655.00 L242.25,656.43 L242.98,658.20 L243.34,658.70 L243.71,658.98 L244.07,659.05 L244.43,658.93 L244.80,658.67 L245.52,657.71 L246.25,656.32 L248.80,650.48 L249.89,648.56 L250.61,647.63 L251.34,646.95 L252.43,646.32 L253.52,646.01 L254.97,645.84 L441.09,645.78 L444.00,645.90 L444.72,646.06 L445.45,646.39 L446.18,647.07 L446.54,647.67 L446.90,648.66 L447.27,650.41 L447.63,653.71 L447.99,659.88 L448.36,670.12 L449.08,695.53 L449.45,703.92 L449.81,708.81 L450.17,711.60 L450.54,713.31 L450.90,714.41 L451.26,715.12 L451.63,715.51 L451.99,715.61 L452.36,715.51 L452.72,715.26 L453.08,714.88 L453.81,713.77 L457.08,706.61 L457.81,705.32 L458.53,704.28 L459.26,703.49 L459.99,702.92 L461.08,702.40 L462.17,702.13 L463.62,701.98 L466.53,701.93 L535.96,701.92 L538.50,701.78 L539.23,701.60 L539.60,701.41 L539.96,701.03 L540.32,700.22 L540.69,698.33 L541.05,694.02 L541.41,685.26 L542.14,658.39 L542.50,649.41 L542.87,644.71 L543.23,642.32 L543.59,640.87 L544.32,638.78 L545.41,636.01 L546.14,634.48 L546.87,633.45 L547.23,633.18 L547.59,633.09 L547.96,633.17 L548.32,633.41 L549.05,634.33 L549.77,635.70 L551.95,640.73 L552.68,642.16 L553.41,643.32 L554.14,644.19 L554.86,644.80 L555.59,645.21 L556.32,645.46 L557.77,645.70 L559.95,645.77 L593.03,645.78" fill="none" stroke="#f08a40" stroke-width="1.5" stroke-linejoin="round" stroke-linecap="butt" opacity="1.0"/>
<path d="M84.20,569.50 H618.00 V740.50 H84.20 Z" fill="none" stroke="#5a5a5a" stroke-width="1.0" stroke-linejoin="miter"/>
<line x1="84.13" y1="740.50" x2="84.13" y2="743.00" stroke="#5a5a5a" stroke-width="1.0"/>
<text transform="translate(84.13,755.90) scale(1.085,1)" font-family='"Liberation Sans", sans-serif' font-size="14.5" font-weight="normal" text-anchor="middle" fill="#262626" class="s">0</text>
<line x1="175.00" y1="740.50" x2="175.00" y2="743.00" stroke="#5a5a5a" stroke-width="1.0"/>
<text transform="translate(175.00,755.90) scale(1.085,1)" font-family='"Liberation Sans", sans-serif' font-size="14.5" font-weight="normal" text-anchor="middle" fill="#262626" class="s">1000</text>
<line x1="265.88" y1="740.50" x2="265.88" y2="743.00" stroke="#5a5a5a" stroke-width="1.0"/>
<text transform="translate(265.88,755.90) scale(1.085,1)" font-family='"Liberation Sans", sans-serif' font-size="14.5" font-weight="normal" text-anchor="middle" fill="#262626" class="s">2000</text>
<line x1="356.75" y1="740.50" x2="356.75" y2="743.00" stroke="#5a5a5a" stroke-width="1.0"/>
<text transform="translate(356.75,755.90) scale(1.085,1)" font-family='"Liberation Sans", sans-serif' font-size="14.5" font-weight="normal" text-anchor="middle" fill="#262626" class="s">3000</text>
<line x1="447.63" y1="740.50" x2="447.63" y2="743.00" stroke="#5a5a5a" stroke-width="1.0"/>
<text transform="translate(447.63,755.90) scale(1.085,1)" font-family='"Liberation Sans", sans-serif' font-size="14.5" font-weight="normal" text-anchor="middle" fill="#262626" class="s">4000</text>
<line x1="538.50" y1="740.50" x2="538.50" y2="743.00" stroke="#5a5a5a" stroke-width="1.0"/>
<text transform="translate(538.50,755.90) scale(1.085,1)" font-family='"Liberation Sans", sans-serif' font-size="14.5" font-weight="normal" text-anchor="middle" fill="#262626" class="s">5000</text>
<line x1="81.70" y1="740.80" x2="84.20" y2="740.80" stroke="#5a5a5a" stroke-width="1.0"/>
<text transform="translate(78.90,746.00) scale(1.085,1)" font-family='"Liberation Sans", sans-serif' font-size="14.5" font-weight="normal" text-anchor="end" fill="#262626" class="s">−0.5</text>
<line x1="81.70" y1="712.30" x2="84.20" y2="712.30" stroke="#5a5a5a" stroke-width="1.0"/>
<text transform="translate(78.90,717.50) scale(1.085,1)" font-family='"Liberation Sans", sans-serif' font-size="14.5" font-weight="normal" text-anchor="end" fill="#262626" class="s">0.0</text>
<line x1="81.70" y1="683.80" x2="84.20" y2="683.80" stroke="#5a5a5a" stroke-width="1.0"/>
<text transform="translate(78.90,689.00) scale(1.085,1)" font-family='"Liberation Sans", sans-serif' font-size="14.5" font-weight="normal" text-anchor="end" fill="#262626" class="s">0.5</text>
<line x1="81.70" y1="655.30" x2="84.20" y2="655.30" stroke="#5a5a5a" stroke-width="1.0"/>
<text transform="translate(78.90,660.50) scale(1.085,1)" font-family='"Liberation Sans", sans-serif' font-size="14.5" font-weight="normal" text-anchor="end" fill="#262626" class="s">1.0</text>
<line x1="81.70" y1="626.80" x2="84.20" y2="626.80" stroke="#5a5a5a" stroke-width="1.0"/>
<text transform="translate(78.90,632.00) scale(1.085,1)" font-family='"Liberation Sans", sans-serif' font-size="14.5" font-weight="normal" text-anchor="end" fill="#262626" class="s">1.5</text>
<line x1="81.70" y1="598.30" x2="84.20" y2="598.30" stroke="#5a5a5a" stroke-width="1.0"/>
<text transform="translate(78.90,603.50) scale(1.085,1)" font-family='"Liberation Sans", sans-serif' font-size="14.5" font-weight="normal" text-anchor="end" fill="#262626" class="s">2.0</text>
<line x1="81.70" y1="569.80" x2="84.20" y2="569.80" stroke="#5a5a5a" stroke-width="1.0"/>
<text transform="translate(78.90,575.00) scale(1.085,1)" font-family='"Liberation Sans", sans-serif' font-size="14.5" font-weight="normal" text-anchor="end" fill="#262626" class="s">2.5</text>
<text transform="translate(351.06,771.70) scale(1.085,1)" font-family='"Liberation Sans", sans-serif' font-size="14.5" font-weight="normal" text-anchor="middle" fill="#262626" class="s">Timestamp [ms]</text>
<text x="0" y="0" transform="translate(39.60,655.00) rotate(-90) scale(1.085,1)" font-family='"Liberation Sans", sans-serif' font-size="14.5" text-anchor="middle" fill="#262626" class="s">Torque [Nm]</text>
<rect x="74.10" y="792.00" width="557.50" height="23.90" rx="2.5" fill="#b9bbbd"/>
<rect x="72.50" y="790.40" width="557.50" height="23.90" rx="2.5" fill="#fff" stroke="#d2d2d2" stroke-width="1"/>
<line x1="76.90" y1="801.30" x2="105.80" y2="801.30" stroke="#2a7bb9" stroke-width="1.5"/>
<text transform="translate(115.80,806.00) scale(1.085,1)" font-family='"Liberation Sans", sans-serif' font-size="14.5" font-weight="normal" text-anchor="start" fill="#262626" class="s">load axis</text>
<line x1="203.60" y1="801.30" x2="232.30" y2="801.30" stroke="#3da14e" stroke-width="1.5"/>
<text transform="translate(242.00,806.00) scale(1.085,1)" font-family='"Liberation Sans", sans-serif' font-size="14.5" font-weight="normal" text-anchor="start" fill="#262626" class="s">real positioning axis</text>
<line x1="406.60" y1="801.30" x2="435.00" y2="801.30" stroke="#f08a40" stroke-width="1.5"/>
<text transform="translate(444.80,806.00) scale(1.085,1)" font-family='"Liberation Sans", sans-serif' font-size="14.5" font-weight="normal" text-anchor="start" fill="#262626" class="s">simulated positioning axis</text>
<text transform="translate(128.30,243.90) scale(1.19,1)" font-family='"Liberation Serif", serif' font-size="18" font-weight="normal" text-anchor="start" fill="#1e1e1e">(<tspan font-weight="bold">a</tspan>)</text>
<text transform="translate(161.20,243.90) scale(1.113,1)" font-family='"Liberation Serif", serif' font-size="18" font-weight="normal" text-anchor="start" fill="#1e1e1e">Actual position (position command value: 2000°)</text>
<text transform="translate(0.60,525.50) scale(1.17,1)" font-family='"Liberation Serif", serif' font-size="18" font-weight="normal" text-anchor="start" fill="#1e1e1e">(<tspan font-weight="bold">b</tspan>)</text>
<text transform="translate(32.70,525.50) scale(1.1,1)" font-family='"Liberation Serif", serif' font-size="18" font-weight="normal" text-anchor="start" fill="#1e1e1e">Actual velocity (positioning velocity: 100 rpm, positioning acceleration: 10 rad/s<tspan dy="-7" font-size="12">2</tspan><tspan dy="7">)</tspan></text>
<text transform="translate(268.00,856.60) scale(1.26,1)" font-family='"Liberation Serif", serif' font-size="18" font-weight="normal" text-anchor="start" fill="#1e1e1e">(<tspan font-weight="bold">c</tspan>)</text>
<text transform="translate(300.00,856.60) scale(1.12,1)" font-family='"Liberation Serif", serif' font-size="18" font-weight="normal" text-anchor="start" fill="#1e1e1e">Actual torques</text>
</svg>
</body></html>
